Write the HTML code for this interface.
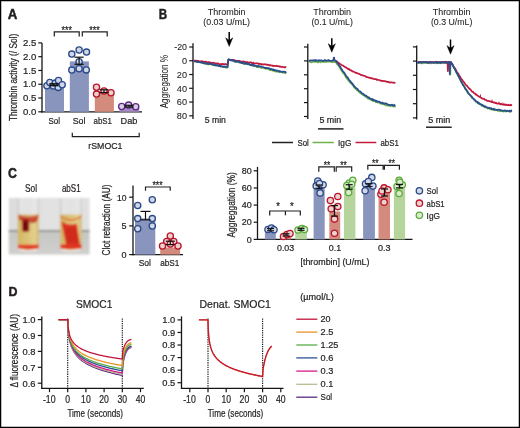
<!DOCTYPE html>
<html><head><meta charset="utf-8"><style>
html,body{margin:0;padding:0;background:#fff;}
svg{display:block;will-change:transform;font-family:"Liberation Sans",sans-serif;}
</style></head><body>
<svg width="520" height="428" viewBox="0 0 520 428">
<rect x="0" y="0" width="520" height="428" fill="#fff"/>
<text x="7.8" y="18.8" font-size="14.2" fill="#231f20" font-weight="bold" stroke="#231f20" stroke-width="0.45" textLength="9.6" lengthAdjust="spacingAndGlyphs">A</text>
<text x="158.8" y="18.7" font-size="13.8" fill="#231f20" font-weight="bold" stroke="#231f20" stroke-width="0.45" textLength="8.4" lengthAdjust="spacingAndGlyphs">B</text>
<text x="8.1" y="178.4" font-size="13.8" fill="#231f20" font-weight="bold" stroke="#231f20" stroke-width="0.45" textLength="8.9" lengthAdjust="spacingAndGlyphs">C</text>
<text x="8.4" y="296.0" font-size="13.4" fill="#231f20" font-weight="bold" stroke="#231f20" stroke-width="0.45" textLength="9.0" lengthAdjust="spacingAndGlyphs">D</text>
<line x1="42.00" y1="42.90" x2="42.00" y2="112.40" stroke="#161616" stroke-width="1.3" />
<line x1="41.40" y1="111.80" x2="142.00" y2="111.80" stroke="#161616" stroke-width="1.3" />
<line x1="38.30" y1="111.80" x2="42.00" y2="111.80" stroke="#161616" stroke-width="1.2" />
<text x="23.0" y="115.0" font-size="9.63" fill="#231f20" font-weight="normal" stroke="#231f20" stroke-width="0.22" textLength="13.3" lengthAdjust="spacingAndGlyphs">0.0</text>
<line x1="38.30" y1="98.02" x2="42.00" y2="98.02" stroke="#161616" stroke-width="1.2" />
<text x="23.0" y="101.2" font-size="9.63" fill="#231f20" font-weight="normal" stroke="#231f20" stroke-width="0.22" textLength="13.3" lengthAdjust="spacingAndGlyphs">0.5</text>
<line x1="38.30" y1="84.24" x2="42.00" y2="84.24" stroke="#161616" stroke-width="1.2" />
<text x="23.0" y="87.4" font-size="9.63" fill="#231f20" font-weight="normal" stroke="#231f20" stroke-width="0.22" textLength="13.3" lengthAdjust="spacingAndGlyphs">1.0</text>
<line x1="38.30" y1="70.46" x2="42.00" y2="70.46" stroke="#161616" stroke-width="1.2" />
<text x="23.0" y="73.7" font-size="9.63" fill="#231f20" font-weight="normal" stroke="#231f20" stroke-width="0.22" textLength="13.3" lengthAdjust="spacingAndGlyphs">1.5</text>
<line x1="38.30" y1="56.68" x2="42.00" y2="56.68" stroke="#161616" stroke-width="1.2" />
<text x="23.0" y="59.9" font-size="9.63" fill="#231f20" font-weight="normal" stroke="#231f20" stroke-width="0.22" textLength="13.3" lengthAdjust="spacingAndGlyphs">2.0</text>
<line x1="38.30" y1="42.90" x2="42.00" y2="42.90" stroke="#161616" stroke-width="1.2" />
<text x="23.0" y="46.1" font-size="9.63" fill="#231f20" font-weight="normal" stroke="#231f20" stroke-width="0.22" textLength="13.3" lengthAdjust="spacingAndGlyphs">2.5</text>
<text transform="translate(17.0,77.4) rotate(-90)" x="-43.6" y="0" font-size="10.45" fill="#231f20" stroke="#231f20" stroke-width="0.22" textLength="87.2" lengthAdjust="spacingAndGlyphs">Thrombin activity (/ Sol)</text>
<rect x="45.00" y="84.24" width="19.00" height="27.56" fill="#8a95be"/>
<rect x="69.80" y="61.37" width="19.10" height="50.43" fill="#8a95be"/>
<rect x="94.80" y="91.13" width="19.10" height="20.67" fill="#d28b7c"/>
<rect x="119.50" y="106.29" width="19.70" height="5.51" fill="#a68cc2"/>
<circle cx="46.90" cy="85.70" r="3.1" fill="#d3d6e7" stroke="#294a88" stroke-width="1.3"/>
<circle cx="49.80" cy="82.50" r="3.1" fill="#d3d6e7" stroke="#294a88" stroke-width="1.3"/>
<circle cx="53.30" cy="86.00" r="3.1" fill="#d3d6e7" stroke="#294a88" stroke-width="1.3"/>
<circle cx="55.30" cy="83.10" r="3.1" fill="#d3d6e7" stroke="#294a88" stroke-width="1.3"/>
<circle cx="58.50" cy="80.50" r="3.1" fill="#d3d6e7" stroke="#294a88" stroke-width="1.3"/>
<circle cx="58.20" cy="87.40" r="3.1" fill="#d3d6e7" stroke="#294a88" stroke-width="1.3"/>
<circle cx="62.20" cy="84.80" r="3.1" fill="#d3d6e7" stroke="#294a88" stroke-width="1.3"/>
<circle cx="71.80" cy="54.10" r="3.1" fill="#d3d6e7" stroke="#294a88" stroke-width="1.3"/>
<circle cx="79.10" cy="50.00" r="3.1" fill="#d3d6e7" stroke="#294a88" stroke-width="1.3"/>
<circle cx="86.50" cy="52.10" r="3.1" fill="#d3d6e7" stroke="#294a88" stroke-width="1.3"/>
<circle cx="79.10" cy="61.70" r="3.1" fill="#d3d6e7" stroke="#294a88" stroke-width="1.3"/>
<circle cx="71.80" cy="70.10" r="3.1" fill="#d3d6e7" stroke="#294a88" stroke-width="1.3"/>
<circle cx="79.10" cy="68.70" r="3.1" fill="#d3d6e7" stroke="#294a88" stroke-width="1.3"/>
<circle cx="86.30" cy="69.90" r="3.1" fill="#d3d6e7" stroke="#294a88" stroke-width="1.3"/>
<circle cx="96.50" cy="87.20" r="3.1" fill="#ebd3cc" stroke="#ba142f" stroke-width="1.3"/>
<circle cx="96.50" cy="94.10" r="3.1" fill="#ebd3cc" stroke="#ba142f" stroke-width="1.3"/>
<circle cx="104.00" cy="91.00" r="3.1" fill="#ebd3cc" stroke="#ba142f" stroke-width="1.3"/>
<circle cx="111.00" cy="92.70" r="3.1" fill="#ebd3cc" stroke="#ba142f" stroke-width="1.3"/>
<circle cx="121.70" cy="106.50" r="3.1" fill="#d8cfe2" stroke="#5d2b86" stroke-width="1.3"/>
<circle cx="128.60" cy="105.10" r="3.1" fill="#d8cfe2" stroke="#5d2b86" stroke-width="1.3"/>
<circle cx="135.70" cy="106.80" r="3.1" fill="#d8cfe2" stroke="#5d2b86" stroke-width="1.3"/>
<line x1="53.90" y1="83.80" x2="53.90" y2="85.60" stroke="#111" stroke-width="1.4" />
<line x1="49.30" y1="83.80" x2="58.50" y2="83.80" stroke="#111" stroke-width="1.4" />
<line x1="49.30" y1="85.60" x2="58.50" y2="85.60" stroke="#111" stroke-width="1.4" />
<line x1="79.10" y1="57.20" x2="79.10" y2="64.30" stroke="#111" stroke-width="1.2" />
<line x1="74.50" y1="57.20" x2="83.70" y2="57.20" stroke="#111" stroke-width="1.2" />
<line x1="74.50" y1="64.30" x2="83.70" y2="64.30" stroke="#111" stroke-width="1.2" />
<line x1="104.00" y1="89.80" x2="104.00" y2="92.60" stroke="#111" stroke-width="1.2" />
<line x1="99.50" y1="89.80" x2="108.50" y2="89.80" stroke="#111" stroke-width="1.2" />
<line x1="99.50" y1="92.60" x2="108.50" y2="92.60" stroke="#111" stroke-width="1.2" />
<line x1="129.00" y1="105.30" x2="129.00" y2="107.00" stroke="#111" stroke-width="1.2" />
<line x1="124.50" y1="105.30" x2="133.50" y2="105.30" stroke="#111" stroke-width="1.2" />
<line x1="124.50" y1="107.00" x2="133.50" y2="107.00" stroke="#111" stroke-width="1.2" />
<path d="M54.3,36.6 V31.8 H79.2 V36.6" fill="none" stroke="#231f20" stroke-width="1.2" />
<path d="M82.3,36.6 V31.8 H107.2 V36.6" fill="none" stroke="#231f20" stroke-width="1.2" />
<text x="61.6" y="34.0" font-size="10.2" fill="#231f20" font-weight="normal" stroke="#231f20" stroke-width="0.22" textLength="10.3" lengthAdjust="spacingAndGlyphs">***</text>
<text x="89.3" y="34.0" font-size="10.2" fill="#231f20" font-weight="normal" stroke="#231f20" stroke-width="0.22" textLength="10.3" lengthAdjust="spacingAndGlyphs">***</text>
<text x="48.5" y="123.5" font-size="9.69" fill="#231f20" font-weight="normal" stroke="#231f20" stroke-width="0.22" textLength="11.5" lengthAdjust="spacingAndGlyphs">Sol</text>
<text x="72.7" y="123.5" font-size="9.69" fill="#231f20" font-weight="normal" stroke="#231f20" stroke-width="0.22" textLength="12.7" lengthAdjust="spacingAndGlyphs">Sol</text>
<text x="93.5" y="123.5" font-size="9.69" fill="#231f20" font-weight="normal" stroke="#231f20" stroke-width="0.22" textLength="18.5" lengthAdjust="spacingAndGlyphs">abS1</text>
<text x="120.5" y="123.5" font-size="9.69" fill="#231f20" font-weight="normal" stroke="#231f20" stroke-width="0.22" textLength="16.9" lengthAdjust="spacingAndGlyphs">Dab</text>
<path d="M72.3,132.7 V136.6 H139.2 V132.7" fill="none" stroke="#231f20" stroke-width="1.2" />
<text x="88.3" y="148.6" font-size="9.69" fill="#231f20" font-weight="normal" stroke="#231f20" stroke-width="0.22" textLength="34.2" lengthAdjust="spacingAndGlyphs">rSMOC1</text>
<line x1="193.00" y1="43.20" x2="193.00" y2="119.00" stroke="#161616" stroke-width="1.3" />
<line x1="189.20" y1="47.00" x2="193.00" y2="47.00" stroke="#161616" stroke-width="1.2" />
<text x="174.2" y="50.2" font-size="9.4" fill="#231f20" font-weight="normal" stroke="#231f20" stroke-width="0.08" textLength="12.8" lengthAdjust="spacingAndGlyphs">-20</text>
<line x1="189.20" y1="60.76" x2="193.00" y2="60.76" stroke="#161616" stroke-width="1.2" />
<text x="181.9" y="64.0" font-size="9.4" fill="#231f20" font-weight="normal" stroke="#231f20" stroke-width="0.08" textLength="5.1" lengthAdjust="spacingAndGlyphs">0</text>
<line x1="189.20" y1="74.52" x2="193.00" y2="74.52" stroke="#161616" stroke-width="1.2" />
<text x="176.8" y="77.7" font-size="9.4" fill="#231f20" font-weight="normal" stroke="#231f20" stroke-width="0.08" textLength="10.2" lengthAdjust="spacingAndGlyphs">20</text>
<line x1="189.20" y1="88.28" x2="193.00" y2="88.28" stroke="#161616" stroke-width="1.2" />
<text x="176.8" y="91.5" font-size="9.4" fill="#231f20" font-weight="normal" stroke="#231f20" stroke-width="0.08" textLength="10.2" lengthAdjust="spacingAndGlyphs">40</text>
<line x1="189.20" y1="102.04" x2="193.00" y2="102.04" stroke="#161616" stroke-width="1.2" />
<text x="176.8" y="105.2" font-size="9.4" fill="#231f20" font-weight="normal" stroke="#231f20" stroke-width="0.08" textLength="10.2" lengthAdjust="spacingAndGlyphs">60</text>
<line x1="189.20" y1="115.80" x2="193.00" y2="115.80" stroke="#161616" stroke-width="1.2" />
<text x="176.8" y="119.0" font-size="9.4" fill="#231f20" font-weight="normal" stroke="#231f20" stroke-width="0.08" textLength="10.2" lengthAdjust="spacingAndGlyphs">80</text>
<text transform="translate(168.1,81.7) rotate(-90)" x="-26.6" y="0" font-size="10.8" fill="#231f20" stroke="#231f20" stroke-width="0.05" textLength="53.3" lengthAdjust="spacingAndGlyphs">Aggregation %</text>
<line x1="307.80" y1="43.80" x2="307.80" y2="119.00" stroke="#161616" stroke-width="1.3" />
<line x1="304.00" y1="47.00" x2="307.80" y2="47.00" stroke="#161616" stroke-width="1.2" />
<line x1="304.00" y1="60.90" x2="307.80" y2="60.90" stroke="#161616" stroke-width="1.2" />
<line x1="304.00" y1="74.80" x2="307.80" y2="74.80" stroke="#161616" stroke-width="1.2" />
<line x1="304.00" y1="88.70" x2="307.80" y2="88.70" stroke="#161616" stroke-width="1.2" />
<line x1="304.00" y1="102.60" x2="307.80" y2="102.60" stroke="#161616" stroke-width="1.2" />
<line x1="304.00" y1="116.50" x2="307.80" y2="116.50" stroke="#161616" stroke-width="1.2" />
<line x1="416.70" y1="45.50" x2="416.70" y2="119.50" stroke="#161616" stroke-width="1.3" />
<line x1="412.90" y1="46.90" x2="416.70" y2="46.90" stroke="#161616" stroke-width="1.2" />
<line x1="412.90" y1="61.10" x2="416.70" y2="61.10" stroke="#161616" stroke-width="1.2" />
<line x1="412.90" y1="75.30" x2="416.70" y2="75.30" stroke="#161616" stroke-width="1.2" />
<line x1="412.90" y1="89.50" x2="416.70" y2="89.50" stroke="#161616" stroke-width="1.2" />
<line x1="412.90" y1="103.70" x2="416.70" y2="103.70" stroke="#161616" stroke-width="1.2" />
<line x1="412.90" y1="117.90" x2="416.70" y2="117.90" stroke="#161616" stroke-width="1.2" />
<line x1="229.20" y1="32.00" x2="229.20" y2="41.40" stroke="#000" stroke-width="1.5" />
<path d="M225.60,37.80 L229.20,40.40 L232.80,37.80 L229.20,46.40 Z" fill="#000" stroke="#000" stroke-width="0.4" stroke-linejoin="round"/>
<line x1="331.80" y1="38.30" x2="331.80" y2="47.30" stroke="#000" stroke-width="1.5" />
<path d="M328.20,43.70 L331.80,46.30 L335.40,43.70 L331.80,52.30 Z" fill="#000" stroke="#000" stroke-width="0.4" stroke-linejoin="round"/>
<line x1="450.50" y1="39.50" x2="450.50" y2="49.20" stroke="#000" stroke-width="1.5" />
<path d="M446.90,45.60 L450.50,48.20 L454.10,45.60 L450.50,54.20 Z" fill="#000" stroke="#000" stroke-width="0.4" stroke-linejoin="round"/>
<text x="207.8" y="14.8" font-size="9.1" fill="#231f20" font-weight="normal" stroke="#231f20" stroke-width="0.08" textLength="37.8" lengthAdjust="spacingAndGlyphs">Thrombin</text>
<text x="203.3" y="24.9" font-size="9.1" fill="#231f20" font-weight="normal" stroke="#231f20" stroke-width="0.08" textLength="46.7" lengthAdjust="spacingAndGlyphs">(0.03 U/mL)</text>
<text x="313.3" y="14.8" font-size="9.1" fill="#231f20" font-weight="normal" stroke="#231f20" stroke-width="0.08" textLength="37.8" lengthAdjust="spacingAndGlyphs">Thrombin</text>
<text x="311.4" y="24.9" font-size="9.1" fill="#231f20" font-weight="normal" stroke="#231f20" stroke-width="0.08" textLength="41.5" lengthAdjust="spacingAndGlyphs">(0.1 U/mL)</text>
<text x="432.7" y="14.8" font-size="9.1" fill="#231f20" font-weight="normal" stroke="#231f20" stroke-width="0.08" textLength="37.8" lengthAdjust="spacingAndGlyphs">Thrombin</text>
<text x="430.9" y="24.9" font-size="9.1" fill="#231f20" font-weight="normal" stroke="#231f20" stroke-width="0.08" textLength="41.5" lengthAdjust="spacingAndGlyphs">(0.3 U/mL)</text>
<path d="M193.5,61.02 L194.2,60.98 L194.9,61.61 L195.6,61.16 L196.3,61.76 L197.0,61.72 L197.7,61.54 L198.4,62.12 L199.1,61.78 L199.7,62.31 L200.4,62.08 L201.1,62.23 L201.8,62.69 L202.5,63.22 L203.2,62.65 L203.9,62.88 L204.6,63.42 L205.3,63.87 L206.0,63.63 L206.7,63.58 L207.4,64.29 L208.1,63.49 L208.8,64.43 L209.5,63.99 L210.2,63.98 L210.8,64.08 L211.5,64.40 L212.2,65.04 L212.9,64.54 L213.6,65.07 L214.3,65.26 L215.0,65.12 L215.7,65.43 L216.4,65.07 L217.1,65.20 L217.8,65.48 L218.5,66.08 L219.2,65.96 L219.9,65.98 L220.6,66.38 L221.3,66.38 L221.9,66.35 L222.6,66.98 L223.3,67.02 L224.0,66.69 L224.7,67.15 L225.4,67.23 L226.1,67.71 L226.8,67.70 L227.5,67.39 L228.3,60.08 L229.0,59.39 L229.7,59.86 L230.4,60.37 L231.1,59.93 L231.8,60.44 L232.5,60.16 L233.2,60.96 L233.9,61.22 L234.6,61.20 L235.3,61.67 L236.0,61.28 L236.7,61.83 L237.4,61.90 L238.1,62.06 L238.8,62.10 L239.5,62.66 L240.2,62.93 L240.9,62.63 L241.6,62.99 L242.3,62.56 L242.9,63.37 L243.6,63.48 L244.3,64.00 L245.0,64.00 L245.7,63.63 L246.4,63.90 L247.1,64.36 L247.8,63.88 L248.5,64.49 L249.2,64.36 L249.9,64.48 L250.6,64.60 L251.3,65.47 L252.0,65.01 L252.7,65.29 L253.4,65.61 L254.1,66.26 L254.8,65.64 L255.5,66.17 L256.2,66.44 L256.9,66.95 L257.6,67.05 L258.3,67.27 L259.0,66.85 L259.7,67.16 L260.4,67.27 L261.1,67.97 L261.8,68.21 L262.5,67.58 L263.2,67.77 L263.9,68.00 L264.6,68.17 L265.3,68.59 L266.0,68.86 L266.7,68.71 L267.4,68.62 L268.1,69.20 L268.8,69.32 L269.5,69.69 L270.2,70.25 L270.9,70.15 L271.6,70.15 L272.2,70.42 L272.9,70.65 L273.6,70.20 L274.3,71.21 L275.0,71.26 L275.7,71.53 L276.4,71.62 L277.1,71.38 L277.8,71.56 L278.5,71.43 L279.2,72.14 L279.9,71.73 L280.6,71.91 L281.3,72.22 L282.0,72.34 L282.7,72.69 L283.4,72.57 L284.1,72.69 L284.8,73.01 L285.5,73.13 L286.2,73.56" fill="none" stroke="#6db34a" stroke-width="1.75" stroke-linejoin="round"/>
<path d="M193.5,60.17 L194.2,60.85 L194.9,60.75 L195.6,60.51 L196.3,60.67 L197.0,60.82 L197.7,60.92 L198.4,60.84 L199.1,61.43 L199.7,61.62 L200.4,61.33 L201.1,61.43 L201.8,61.24 L202.5,61.34 L203.2,61.59 L203.9,61.62 L204.6,62.10 L205.3,61.72 L206.0,61.71 L206.7,62.44 L207.4,62.23 L208.1,62.05 L208.8,62.42 L209.5,62.14 L210.2,62.58 L210.8,62.98 L211.5,62.98 L212.2,62.95 L212.9,62.73 L213.6,62.89 L214.3,62.84 L215.0,63.35 L215.7,63.27 L216.4,63.52 L217.1,63.30 L217.8,63.31 L218.5,63.80 L219.2,64.01 L219.9,64.00 L220.6,64.06 L221.3,64.15 L221.9,64.18 L222.6,63.91 L223.3,64.20 L224.0,64.17 L224.7,64.03 L225.4,64.11 L226.1,64.37 L226.8,64.45 L227.5,64.83 L228.3,59.92 L229.0,59.66 L229.7,60.09 L230.4,60.22 L231.1,60.29 L231.8,59.98 L232.5,59.97 L233.2,60.07 L233.9,60.14 L234.6,60.24 L235.3,60.63 L236.0,60.91 L236.7,60.97 L237.4,60.81 L238.1,61.02 L238.8,61.22 L239.5,60.81 L240.2,61.31 L240.9,61.58 L241.6,61.58 L242.3,61.65 L242.9,61.56 L243.6,61.44 L244.3,61.96 L245.0,61.74 L245.7,62.16 L246.4,62.37 L247.1,62.06 L247.8,62.16 L248.5,62.64 L249.2,62.58 L249.9,62.28 L250.6,62.35 L251.3,62.46 L252.0,63.08 L252.7,63.10 L253.4,62.74 L254.1,63.31 L254.8,63.51 L255.5,63.38 L256.2,63.25 L256.9,63.49 L257.6,63.29 L258.3,63.30 L259.0,64.06 L259.7,63.93 L260.4,63.94 L261.1,64.32 L261.8,64.06 L262.5,64.47 L263.2,64.53 L263.9,64.19 L264.6,64.31 L265.3,64.44 L266.0,64.49 L266.7,64.83 L267.4,64.69 L268.1,64.90 L268.8,64.79 L269.5,65.43 L270.2,65.14 L270.9,65.30 L271.6,65.48 L272.2,65.80 L272.9,65.56 L273.6,66.00 L274.3,65.80 L275.0,65.92 L275.7,66.01 L276.4,65.75 L277.1,66.14 L277.8,66.05 L278.5,66.02 L279.2,66.67 L279.9,66.32 L280.6,66.63 L281.3,66.90 L282.0,66.88 L282.7,66.81 L283.4,67.04 L284.1,67.16 L284.8,67.41 L285.5,67.03 L286.2,67.44" fill="none" stroke="#c2183c" stroke-width="1.75" stroke-linejoin="round"/>
<path d="M193.5,60.62 L194.2,60.79 L194.9,61.46 L195.6,61.30 L196.3,61.49 L197.0,61.84 L197.7,62.14 L198.4,61.75 L199.1,62.07 L199.7,62.08 L200.4,62.22 L201.1,62.55 L201.8,62.41 L202.5,62.63 L203.2,62.70 L203.9,63.34 L204.6,63.21 L205.3,63.53 L206.0,63.74 L206.7,63.12 L207.4,63.58 L208.1,64.13 L208.8,64.15 L209.5,63.50 L210.2,63.62 L210.8,64.10 L211.5,63.83 L212.2,64.14 L212.9,64.09 L213.6,64.87 L214.3,65.13 L215.0,65.39 L215.7,64.70 L216.4,65.45 L217.1,65.52 L217.8,65.08 L218.5,66.02 L219.2,66.25 L219.9,65.55 L220.6,66.49 L221.3,66.01 L221.9,66.24 L222.6,66.92 L223.3,66.88 L224.0,66.27 L224.7,66.70 L225.4,66.93 L226.1,66.86 L226.8,66.83 L227.5,67.10 L228.3,59.84 L229.0,59.23 L229.7,59.97 L230.4,60.00 L231.1,59.70 L231.8,60.20 L232.5,60.68 L233.2,60.71 L233.9,60.37 L234.6,61.54 L235.3,61.48 L236.0,61.84 L236.7,61.04 L237.4,61.38 L238.1,61.29 L238.8,62.26 L239.5,61.85 L240.2,61.86 L240.9,62.33 L241.6,63.03 L242.3,63.08 L242.9,62.62 L243.6,62.66 L244.3,63.66 L245.0,63.44 L245.7,63.74 L246.4,63.22 L247.1,63.34 L247.8,64.19 L248.5,64.06 L249.2,63.83 L249.9,64.94 L250.6,64.76 L251.3,65.10 L252.0,64.47 L252.7,65.47 L253.4,64.76 L254.1,65.79 L254.8,65.50 L255.5,65.53 L256.2,65.92 L256.9,66.49 L257.6,65.92 L258.3,65.93 L259.0,66.52 L259.7,66.36 L260.4,66.38 L261.1,66.59 L261.8,66.62 L262.5,66.95 L263.2,67.22 L263.9,67.37 L264.6,68.03 L265.3,67.67 L266.0,68.06 L266.7,67.86 L267.4,68.20 L268.1,68.00 L268.8,68.41 L269.5,68.31 L270.2,69.25 L270.9,69.21 L271.6,68.97 L272.2,69.44 L272.9,70.10 L273.6,69.35 L274.3,70.29 L275.0,70.02 L275.7,70.25 L276.4,70.78 L277.1,70.45 L277.8,70.73 L278.5,71.08 L279.2,71.56 L279.9,71.02 L280.6,71.71 L281.3,71.73 L282.0,71.81 L282.7,71.71 L283.4,71.81 L284.1,71.64 L284.8,71.88 L285.5,71.97 L286.2,72.86" fill="none" stroke="#2a4f8e" stroke-width="1.75" stroke-linejoin="round"/>
<path d="M308.5,61.66 L309.2,61.56 L309.9,61.48 L310.6,62.24 L311.3,62.27 L312.0,62.07 L312.7,61.68 L313.3,61.64 L314.0,61.69 L314.7,61.86 L315.4,61.56 L316.1,61.85 L316.8,61.66 L317.5,62.36 L318.2,62.37 L318.9,61.95 L319.6,61.64 L320.3,62.37 L321.0,61.71 L321.7,61.76 L322.3,61.40 L323.0,61.78 L323.7,61.87 L324.4,61.90 L325.1,61.60 L325.8,61.90 L326.5,61.40 L327.2,61.66 L327.9,61.49 L328.6,61.80 L329.3,61.44 L330.0,61.42 L330.7,61.70 L331.3,61.63 L332.0,61.99 L332.7,61.93 L333.4,62.15 L334.1,62.06 L334.8,62.12 L335.5,62.28 L335.5,61.79 L336.2,62.42 L336.9,63.97 L337.6,64.10 L338.3,65.68 L339.0,66.64 L339.7,67.09 L340.4,68.95 L341.1,70.07 L341.8,70.86 L342.5,72.02 L343.2,73.15 L343.9,73.51 L344.6,74.91 L345.3,75.90 L346.0,77.22 L346.7,78.16 L347.4,79.14 L348.1,79.83 L348.8,81.05 L349.5,81.74 L350.2,82.63 L350.8,83.02 L351.5,83.65 L352.2,84.57 L352.9,85.59 L353.6,86.10 L354.3,87.58 L355.0,88.04 L355.7,88.82 L356.4,89.51 L357.1,90.23 L357.8,90.69 L358.5,90.84 L359.2,92.24 L359.9,92.79 L360.6,93.12 L361.3,93.71 L362.0,94.38 L362.7,94.31 L363.4,95.48 L364.1,95.49 L364.8,95.79 L365.5,96.44 L366.2,97.34 L366.9,97.25 L367.6,98.20 L368.3,98.84 L369.0,98.74 L369.7,99.00 L370.4,99.46 L371.1,100.01 L371.8,100.43 L372.5,100.60 L373.2,100.94 L373.9,100.68 L374.6,101.04 L375.3,101.42 L376.0,102.18 L376.7,102.00 L377.4,102.52 L378.1,102.20 L378.8,102.48 L379.5,102.91 L380.2,103.53 L380.8,103.76 L381.5,103.94 L382.2,103.75 L382.9,104.16 L383.6,104.28 L384.3,104.45 L385.0,104.27 L385.7,105.20 L386.4,104.66 L387.1,105.58 L387.8,105.68 L388.5,104.90 L389.2,105.47 L389.9,105.95 L390.6,106.22 L391.3,105.81 L392.0,105.74 L392.7,105.79 L393.4,106.62 L394.1,105.99 L394.8,106.45 L395.5,106.10" fill="none" stroke="#6db34a" stroke-width="1.75" />
<path d="M335.5,60.51 L336.2,61.27 L336.9,61.39 L337.6,62.26 L338.3,62.62 L339.0,63.31 L339.7,63.71 L340.4,63.96 L341.1,64.77 L341.8,65.03 L342.5,65.25 L343.2,65.69 L343.9,66.37 L344.6,66.78 L345.3,67.12 L346.0,67.45 L346.7,67.96 L347.4,68.34 L348.1,68.99 L348.8,68.95 L349.5,69.70 L350.2,70.11 L350.8,70.11 L351.5,70.86 L352.2,71.10 L352.9,71.53 L353.6,71.56 L354.3,71.92 L355.0,72.25 L355.7,72.87 L356.4,72.97 L357.1,73.15 L357.8,73.48 L358.5,73.69 L359.2,73.86 L359.9,74.16 L360.6,74.80 L361.3,74.79 L362.0,75.38 L362.7,75.29 L363.4,75.55 L364.1,75.92 L364.8,76.00 L365.5,76.32 L366.2,76.85 L366.9,77.04 L367.6,77.22 L368.3,77.35 L369.0,77.71 L369.7,77.93 L370.4,77.94 L371.1,78.22 L371.8,78.09 L372.5,78.62 L373.2,78.67 L373.9,79.01 L374.6,79.13 L375.3,79.13 L376.0,79.19 L376.7,79.80 L377.4,79.57 L378.1,79.90 L378.8,80.00 L379.5,80.14 L380.2,80.51 L380.8,80.78 L381.5,80.57 L382.2,80.92 L382.9,80.88 L383.6,81.15 L384.3,81.21 L385.0,81.23 L385.7,81.36 L386.4,81.51 L387.1,81.99 L387.8,81.91 L388.5,81.89 L389.2,82.36 L389.9,82.52 L390.6,82.36 L391.3,82.32 L392.0,82.45 L392.7,82.51 L393.4,82.74 L394.1,82.72 L394.8,82.90 L395.5,83.01" fill="none" stroke="#c2183c" stroke-width="1.75" />
<path d="M308.5,60.56 L309.2,60.85 L309.9,60.72 L310.6,60.42 L311.3,60.42 L312.0,60.52 L312.7,60.39 L313.4,60.35 L314.1,60.11 L314.8,60.30 L315.4,60.92 L316.1,60.16 L316.8,60.50 L317.5,60.62 L318.2,60.83 L318.9,60.24 L319.6,60.29 L320.3,60.27 L321.0,60.41 L321.7,60.45 L322.4,60.91 L323.1,60.81 L323.8,60.84 L324.5,60.07 L325.2,60.08 L325.9,60.69 L326.6,60.86 L327.2,60.48 L327.9,60.58 L328.6,60.05 L329.3,60.40 L330.0,60.88 L330.7,60.79 L331.4,60.82 L332.1,60.93 L332.8,60.27 L333.5,60.15 L333.9,56.99 L334.6,60.52 L335.5,60.66 L336.2,61.60 L336.9,62.30 L337.6,63.21 L338.3,64.33 L339.0,65.10 L339.7,66.25 L340.4,66.86 L341.1,68.61 L341.8,69.18 L342.5,70.87 L343.2,71.68 L343.9,72.41 L344.6,73.29 L345.3,74.41 L346.0,75.76 L346.7,76.80 L347.4,77.23 L348.1,78.14 L348.8,79.47 L349.5,80.43 L350.2,81.14 L350.8,81.85 L351.5,83.04 L352.2,83.33 L352.9,84.39 L353.6,85.31 L354.3,86.52 L355.0,86.97 L355.7,87.91 L356.4,88.23 L357.1,88.70 L357.8,89.36 L358.5,90.65 L359.2,91.03 L359.9,91.28 L360.6,91.60 L361.3,92.60 L362.0,93.30 L362.7,93.60 L363.4,93.97 L364.1,94.83 L364.8,95.54 L365.5,95.38 L366.2,95.65 L366.9,96.36 L367.6,96.85 L368.3,97.49 L369.0,97.45 L369.7,98.36 L370.4,98.67 L371.1,98.82 L371.8,98.88 L372.5,99.90 L373.2,99.62 L373.9,100.38 L374.6,100.15 L375.3,100.42 L376.0,101.18 L376.7,101.02 L377.4,101.87 L378.1,101.70 L378.8,101.66 L379.5,101.91 L380.2,102.30 L380.8,102.74 L381.5,103.19 L382.2,102.66 L382.9,103.07 L383.6,103.09 L384.3,103.95 L385.0,103.36 L385.7,103.44 L386.4,103.60 L387.1,104.05 L387.8,104.64 L388.5,104.76 L389.2,104.76 L389.9,105.12 L390.6,105.18 L391.3,104.75 L392.0,104.73 L392.7,105.52 L393.4,105.45 L394.1,104.90 L394.8,105.56 L395.5,105.40" fill="none" stroke="#2a4f8e" stroke-width="1.75" />
<path d="M417.5,62.67 L418.2,62.63 L418.9,62.47 L419.6,62.30 L420.2,62.58 L420.9,62.65 L421.6,63.26 L422.3,62.42 L423.0,63.26 L423.7,62.51 L424.4,62.66 L425.1,63.12 L425.7,63.12 L426.4,62.73 L427.1,62.35 L427.8,62.77 L428.5,62.67 L429.2,63.22 L429.9,62.49 L430.6,62.66 L431.2,63.20 L431.9,62.33 L432.6,62.71 L433.3,63.11 L434.0,63.07 L434.7,62.34 L435.4,62.33 L436.1,62.36 L436.7,63.22 L437.4,62.56 L438.1,63.05 L438.8,63.20 L439.5,62.64 L440.2,62.57 L440.9,63.26 L441.6,62.92 L442.2,62.56 L442.9,63.02 L443.6,62.62 L444.3,62.58 L445.0,62.30 L445.7,63.06 L446.4,63.22 L447.1,62.93 L447.7,63.24 L448.4,62.32 L449.1,62.53 L449.8,62.78 L450.2,75.46 L450.6,63.45 L451.0,62.89 L451.7,63.46 L452.4,64.65 L453.1,65.87 L453.8,67.55 L454.5,68.11 L455.2,70.08 L455.9,71.39 L456.5,72.86 L457.2,74.20 L457.9,75.41 L458.6,76.51 L459.3,77.86 L460.0,79.24 L460.7,80.97 L461.4,81.56 L462.1,82.94 L462.8,84.72 L463.5,85.41 L464.2,86.40 L464.9,87.50 L465.6,89.11 L466.2,89.94 L466.9,91.62 L467.6,92.51 L468.3,93.57 L469.0,93.77 L469.7,94.47 L470.4,95.33 L471.1,96.55 L471.8,97.55 L472.5,98.03 L473.2,98.54 L473.9,99.41 L474.6,100.27 L475.3,100.95 L476.0,101.63 L476.6,102.30 L477.3,102.66 L478.0,102.64 L478.7,103.86 L479.4,103.78 L480.1,104.50 L480.8,104.74 L481.5,105.51 L482.2,105.35 L482.9,105.76 L483.6,106.11 L484.3,106.35 L485.0,107.39 L485.7,107.38 L486.4,107.40 L487.0,107.74 L487.7,108.58 L488.4,108.33 L489.1,108.28 L489.8,109.07 L490.5,109.11 L491.2,109.64 L491.9,108.92 L492.6,109.46 L493.3,109.96 L494.0,110.13 L494.7,110.35 L495.4,109.60 L496.1,109.98 L496.8,109.92 L497.4,110.10 L498.1,110.99 L498.8,110.69 L499.5,111.13 L500.2,110.66 L500.9,111.23 L501.6,110.89 L502.3,110.77 L503.0,111.35 L503.7,111.58 L504.4,110.80 L505.1,111.35 L505.8,111.42 L506.5,111.06 L507.1,111.26 L507.8,111.07 L508.5,111.18 L509.2,111.26 L509.9,111.64 L510.6,111.72 L511.3,111.31 L512.0,111.14" fill="none" stroke="#6db34a" stroke-width="1.75" />
<path d="M417.5,62.08 L418.2,62.32 L418.9,61.98 L419.6,62.07 L420.2,61.99 L420.9,62.41 L421.6,62.23 L422.3,61.89 L423.0,61.92 L423.7,62.13 L424.3,62.24 L425.0,62.30 L425.7,61.91 L426.4,61.96 L427.1,62.34 L427.8,62.14 L428.4,62.05 L429.1,62.07 L429.8,62.52 L430.5,62.07 L431.2,62.25 L431.9,62.10 L432.6,62.14 L433.2,62.45 L433.9,62.55 L434.6,62.10 L435.3,61.99 L436.0,62.36 L436.7,61.99 L437.3,61.85 L438.0,62.48 L438.7,62.15 L439.4,62.42 L440.1,62.13 L440.8,62.47 L441.4,62.17 L442.1,61.96 L442.8,61.86 L443.5,62.24 L444.2,62.30 L444.9,62.49 L445.5,61.91 L446.2,62.29 L446.9,62.11 L447.6,62.20 L447.9,71.75 L448.3,62.05 L450.7,62.21 L451.4,63.27 L452.1,63.69 L452.8,65.02 L453.5,66.36 L454.2,67.61 L454.9,68.22 L455.6,69.33 L456.3,71.05 L457.0,72.22 L457.7,73.00 L458.4,73.82 L459.1,75.52 L459.8,76.22 L460.5,77.64 L461.1,78.48 L461.8,79.63 L462.5,80.15 L463.2,81.54 L463.9,82.08 L464.6,83.12 L465.3,84.31 L466.0,85.15 L466.7,85.53 L467.4,86.36 L468.1,87.27 L468.8,88.10 L469.5,88.74 L470.2,89.26 L470.9,90.03 L471.6,91.02 L472.3,91.78 L473.0,91.79 L473.7,92.75 L474.4,93.45 L475.1,93.50 L475.8,94.59 L476.5,94.59 L477.2,95.42 L477.9,95.85 L478.6,96.36 L479.3,96.57 L480.0,97.07 L480.7,97.58 L481.4,97.86 L482.0,98.39 L482.7,98.60 L483.4,98.93 L484.1,98.97 L484.8,99.70 L485.5,99.91 L486.2,100.02 L486.9,100.66 L487.6,100.94 L488.3,100.96 L489.0,101.01 L489.7,101.45 L490.4,101.41 L491.1,101.64 L491.8,102.05 L492.5,102.01 L493.2,102.44 L493.9,102.66 L494.6,102.50 L495.3,103.08 L496.0,102.85 L496.7,103.45 L497.4,103.62 L498.1,103.57 L498.8,103.38 L499.5,103.81 L500.2,103.84 L500.9,104.36 L501.6,103.89 L502.2,104.50 L502.9,104.69 L503.6,104.60 L504.3,104.74 L505.0,104.39 L505.7,105.02 L506.4,104.76 L507.1,105.15 L507.8,105.19 L508.5,104.73 L509.2,105.23 L509.9,105.39 L510.6,104.84 L511.3,105.09 L512.0,105.43" fill="none" stroke="#c2183c" stroke-width="1.75" />
<line x1="480.50" y1="97.44" x2="480.50" y2="94.44" stroke="#c2183c" stroke-width="0.9" />
<line x1="492.00" y1="102.16" x2="492.00" y2="99.66" stroke="#c2183c" stroke-width="0.9" />
<line x1="499.00" y1="103.73" x2="499.00" y2="101.73" stroke="#c2183c" stroke-width="0.9" />
<line x1="503.00" y1="104.35" x2="503.00" y2="102.55" stroke="#c2183c" stroke-width="0.9" />
<path d="M417.5,62.09 L418.2,62.76 L418.9,62.20 L419.6,62.68 L420.3,62.08 L421.0,62.40 L421.7,62.78 L422.4,62.14 L423.1,62.19 L423.8,62.41 L424.5,62.24 L425.2,61.98 L425.8,62.11 L426.5,62.10 L427.2,62.79 L427.9,62.56 L428.6,62.76 L429.3,62.10 L430.0,62.66 L430.7,62.05 L431.4,62.43 L432.1,62.52 L432.8,62.27 L433.5,62.74 L434.2,62.45 L434.9,62.47 L435.6,62.74 L436.3,62.04 L437.0,62.84 L437.7,62.52 L438.4,62.30 L439.1,62.67 L439.8,62.19 L440.5,62.84 L441.2,62.47 L441.8,62.27 L442.5,62.64 L443.2,62.35 L443.9,62.11 L444.6,62.62 L445.3,61.99 L446.0,62.69 L446.7,62.18 L447.4,62.53 L448.1,62.84 L448.8,62.48 L449.5,62.55 L449.8,74.83 L450.2,62.05 L450.7,61.98 L451.4,62.79 L452.1,64.23 L452.8,65.23 L453.5,66.56 L454.2,68.22 L454.9,68.89 L455.6,70.35 L456.3,72.13 L457.0,72.95 L457.7,74.33 L458.4,76.02 L459.1,77.16 L459.8,78.73 L460.5,79.93 L461.1,81.55 L461.8,82.82 L462.5,83.71 L463.2,85.28 L463.9,86.32 L464.6,87.14 L465.3,88.96 L466.0,89.40 L466.7,90.34 L467.4,91.28 L468.1,92.72 L468.8,93.85 L469.5,94.66 L470.2,95.16 L470.9,95.85 L471.6,96.41 L472.3,97.73 L473.0,98.37 L473.7,98.87 L474.4,99.79 L475.1,100.23 L475.8,101.28 L476.5,101.66 L477.2,101.77 L477.9,102.88 L478.6,102.60 L479.3,103.51 L480.0,103.84 L480.7,104.11 L481.4,104.36 L482.0,105.39 L482.7,105.06 L483.4,105.89 L484.1,106.56 L484.8,106.15 L485.5,106.50 L486.2,107.14 L486.9,107.31 L487.6,107.68 L488.3,108.07 L489.0,107.71 L489.7,108.04 L490.4,108.23 L491.1,108.19 L491.8,109.12 L492.5,109.19 L493.2,109.28 L493.9,108.79 L494.6,109.68 L495.3,109.72 L496.0,109.59 L496.7,109.96 L497.4,109.80 L498.1,109.70 L498.8,109.69 L499.5,109.89 L500.2,109.80 L500.9,110.14 L501.6,110.59 L502.2,110.61 L502.9,110.81 L503.6,110.75 L504.3,110.41 L505.0,110.72 L505.7,110.66 L506.4,111.02 L507.1,110.83 L507.8,110.64 L508.5,111.01 L509.2,111.34 L509.9,110.70 L510.6,111.33 L511.3,110.58 L512.0,110.83" fill="none" stroke="#2a4f8e" stroke-width="1.75" />
<text x="204.8" y="123.2" font-size="9.1" fill="#231f20" font-weight="normal" stroke="#231f20" stroke-width="0.22" textLength="21.1" lengthAdjust="spacingAndGlyphs">5 min</text>
<text x="319.4" y="123.2" font-size="9.1" fill="#231f20" font-weight="normal" stroke="#231f20" stroke-width="0.22" textLength="21.7" lengthAdjust="spacingAndGlyphs">5 min</text>
<line x1="318.00" y1="128.90" x2="343.50" y2="128.90" stroke="#161616" stroke-width="1.4" />
<text x="428.3" y="123.0" font-size="9.1" fill="#231f20" font-weight="normal" stroke="#231f20" stroke-width="0.22" textLength="22.0" lengthAdjust="spacingAndGlyphs">5 min</text>
<line x1="426.00" y1="127.20" x2="451.70" y2="127.20" stroke="#161616" stroke-width="1.4" />
<line x1="272.00" y1="142.50" x2="293.00" y2="142.50" stroke="#222" stroke-width="1.5" />
<text x="297.5" y="145.6" font-size="9.63" fill="#231f20" font-weight="normal" stroke="#231f20" stroke-width="0.22" textLength="11.3" lengthAdjust="spacingAndGlyphs">Sol</text>
<line x1="312.50" y1="142.50" x2="333.80" y2="142.50" stroke="#6db34a" stroke-width="1.5" />
<text x="338.0" y="145.6" font-size="9.63" fill="#231f20" font-weight="normal" stroke="#231f20" stroke-width="0.22" textLength="13.3" lengthAdjust="spacingAndGlyphs">IgG</text>
<line x1="355.50" y1="142.50" x2="376.30" y2="142.50" stroke="#c2183c" stroke-width="1.5" />
<text x="380.5" y="145.6" font-size="9.63" fill="#231f20" font-weight="normal" stroke="#231f20" stroke-width="0.22" textLength="18.3" lengthAdjust="spacingAndGlyphs">abS1</text>
<line x1="257.50" y1="166.90" x2="257.50" y2="240.00" stroke="#161616" stroke-width="1.3" />
<line x1="256.90" y1="239.40" x2="412.50" y2="239.40" stroke="#161616" stroke-width="1.3" />
<line x1="253.70" y1="239.40" x2="257.50" y2="239.40" stroke="#161616" stroke-width="1.2" />
<text x="246.7" y="242.6" font-size="9.63" fill="#231f20" font-weight="normal" stroke="#231f20" stroke-width="0.22" textLength="5.0" lengthAdjust="spacingAndGlyphs">0</text>
<line x1="253.70" y1="222.25" x2="257.50" y2="222.25" stroke="#161616" stroke-width="1.2" />
<text x="241.7" y="225.4" font-size="9.63" fill="#231f20" font-weight="normal" stroke="#231f20" stroke-width="0.22" textLength="10.0" lengthAdjust="spacingAndGlyphs">20</text>
<line x1="253.70" y1="205.10" x2="257.50" y2="205.10" stroke="#161616" stroke-width="1.2" />
<text x="241.7" y="208.3" font-size="9.63" fill="#231f20" font-weight="normal" stroke="#231f20" stroke-width="0.22" textLength="10.0" lengthAdjust="spacingAndGlyphs">40</text>
<line x1="253.70" y1="187.95" x2="257.50" y2="187.95" stroke="#161616" stroke-width="1.2" />
<text x="241.7" y="191.1" font-size="9.63" fill="#231f20" font-weight="normal" stroke="#231f20" stroke-width="0.22" textLength="10.0" lengthAdjust="spacingAndGlyphs">60</text>
<line x1="253.70" y1="170.80" x2="257.50" y2="170.80" stroke="#161616" stroke-width="1.2" />
<text x="241.7" y="174.0" font-size="9.63" fill="#231f20" font-weight="normal" stroke="#231f20" stroke-width="0.22" textLength="10.0" lengthAdjust="spacingAndGlyphs">80</text>
<text transform="translate(235.1,204.9) rotate(-90)" x="-32.6" y="0" font-size="11.55" fill="#231f20" stroke="#231f20" stroke-width="0.22" textLength="65.2" lengthAdjust="spacingAndGlyphs">Aggreggation (%)</text>
<rect x="264.90" y="229.11" width="10.90" height="10.29" fill="#8a95be"/>
<rect x="280.00" y="235.11" width="11.40" height="4.29" fill="#d28b7c"/>
<rect x="295.20" y="229.11" width="11.70" height="10.29" fill="#b6d59d"/>
<rect x="313.60" y="187.95" width="11.10" height="51.45" fill="#8a95be"/>
<rect x="329.30" y="211.53" width="10.90" height="27.87" fill="#d28b7c"/>
<rect x="344.00" y="187.52" width="11.40" height="51.88" fill="#b6d59d"/>
<rect x="363.10" y="185.38" width="11.80" height="54.02" fill="#8a95be"/>
<rect x="378.50" y="192.24" width="11.50" height="47.16" fill="#d28b7c"/>
<rect x="393.90" y="186.24" width="11.20" height="53.16" fill="#b6d59d"/>
<circle cx="268.00" cy="229.50" r="3.15" fill="#d3d6e7" stroke="#294a88" stroke-width="1.3"/>
<circle cx="271.50" cy="228.00" r="3.15" fill="#d3d6e7" stroke="#294a88" stroke-width="1.3"/>
<circle cx="274.00" cy="229.80" r="3.15" fill="#d3d6e7" stroke="#294a88" stroke-width="1.3"/>
<line x1="270.50" y1="228.50" x2="270.50" y2="230.80" stroke="#111" stroke-width="1.2" />
<line x1="267.00" y1="228.50" x2="274.00" y2="228.50" stroke="#111" stroke-width="1.2" />
<line x1="267.00" y1="230.80" x2="274.00" y2="230.80" stroke="#111" stroke-width="1.2" />
<circle cx="283.50" cy="236.50" r="3.15" fill="#ebd3cc" stroke="#ba142f" stroke-width="1.3"/>
<circle cx="287.00" cy="234.50" r="3.15" fill="#ebd3cc" stroke="#ba142f" stroke-width="1.3"/>
<circle cx="290.00" cy="233.50" r="3.15" fill="#ebd3cc" stroke="#ba142f" stroke-width="1.3"/>
<line x1="286.00" y1="233.80" x2="286.00" y2="236.00" stroke="#111" stroke-width="1.2" />
<line x1="282.50" y1="233.80" x2="289.50" y2="233.80" stroke="#111" stroke-width="1.2" />
<line x1="282.50" y1="236.00" x2="289.50" y2="236.00" stroke="#111" stroke-width="1.2" />
<circle cx="298.00" cy="230.00" r="3.15" fill="#dcead0" stroke="#5aac3a" stroke-width="1.3"/>
<circle cx="302.00" cy="228.50" r="3.15" fill="#dcead0" stroke="#5aac3a" stroke-width="1.3"/>
<circle cx="304.50" cy="229.50" r="3.15" fill="#dcead0" stroke="#5aac3a" stroke-width="1.3"/>
<line x1="301.00" y1="228.30" x2="301.00" y2="230.30" stroke="#111" stroke-width="1.2" />
<line x1="297.50" y1="228.30" x2="304.50" y2="228.30" stroke="#111" stroke-width="1.2" />
<line x1="297.50" y1="230.30" x2="304.50" y2="230.30" stroke="#111" stroke-width="1.2" />
<circle cx="317.80" cy="181.00" r="3.15" fill="#d3d6e7" stroke="#294a88" stroke-width="1.3"/>
<circle cx="316.20" cy="185.90" r="3.15" fill="#d3d6e7" stroke="#294a88" stroke-width="1.3"/>
<circle cx="323.10" cy="184.70" r="3.15" fill="#d3d6e7" stroke="#294a88" stroke-width="1.3"/>
<circle cx="319.50" cy="183.50" r="3.15" fill="#d3d6e7" stroke="#294a88" stroke-width="1.3"/>
<circle cx="320.10" cy="192.90" r="3.15" fill="#d3d6e7" stroke="#294a88" stroke-width="1.3"/>
<line x1="319.00" y1="185.00" x2="319.00" y2="188.30" stroke="#111" stroke-width="1.2" />
<line x1="315.50" y1="185.00" x2="322.50" y2="185.00" stroke="#111" stroke-width="1.2" />
<line x1="315.50" y1="188.30" x2="322.50" y2="188.30" stroke="#111" stroke-width="1.2" />
<circle cx="330.40" cy="200.60" r="3.15" fill="#ebd3cc" stroke="#ba142f" stroke-width="1.3"/>
<circle cx="337.80" cy="196.50" r="3.15" fill="#ebd3cc" stroke="#ba142f" stroke-width="1.3"/>
<circle cx="331.20" cy="208.80" r="3.15" fill="#ebd3cc" stroke="#ba142f" stroke-width="1.3"/>
<circle cx="337.80" cy="206.60" r="3.15" fill="#ebd3cc" stroke="#ba142f" stroke-width="1.3"/>
<circle cx="334.50" cy="219.10" r="3.15" fill="#ebd3cc" stroke="#ba142f" stroke-width="1.3"/>
<circle cx="334.50" cy="233.30" r="3.15" fill="#ebd3cc" stroke="#ba142f" stroke-width="1.3"/>
<line x1="334.50" y1="205.50" x2="334.50" y2="216.10" stroke="#111" stroke-width="1.2" />
<line x1="331.00" y1="205.50" x2="338.00" y2="205.50" stroke="#111" stroke-width="1.2" />
<line x1="331.00" y1="216.10" x2="338.00" y2="216.10" stroke="#111" stroke-width="1.2" />
<circle cx="349.20" cy="183.10" r="3.15" fill="#dcead0" stroke="#5aac3a" stroke-width="1.3"/>
<circle cx="352.80" cy="180.20" r="3.15" fill="#dcead0" stroke="#5aac3a" stroke-width="1.3"/>
<circle cx="346.80" cy="185.50" r="3.15" fill="#dcead0" stroke="#5aac3a" stroke-width="1.3"/>
<circle cx="348.60" cy="192.60" r="3.15" fill="#dcead0" stroke="#5aac3a" stroke-width="1.3"/>
<circle cx="351.70" cy="184.30" r="3.15" fill="#dcead0" stroke="#5aac3a" stroke-width="1.3"/>
<line x1="349.20" y1="184.70" x2="349.20" y2="189.20" stroke="#111" stroke-width="1.2" />
<line x1="345.70" y1="184.70" x2="352.70" y2="184.70" stroke="#111" stroke-width="1.2" />
<line x1="345.70" y1="189.20" x2="352.70" y2="189.20" stroke="#111" stroke-width="1.2" />
<circle cx="371.80" cy="177.40" r="3.15" fill="#d3d6e7" stroke="#294a88" stroke-width="1.3"/>
<circle cx="365.50" cy="183.70" r="3.15" fill="#d3d6e7" stroke="#294a88" stroke-width="1.3"/>
<circle cx="372.90" cy="186.10" r="3.15" fill="#d3d6e7" stroke="#294a88" stroke-width="1.3"/>
<circle cx="365.10" cy="190.70" r="3.15" fill="#d3d6e7" stroke="#294a88" stroke-width="1.3"/>
<circle cx="368.30" cy="181.60" r="3.15" fill="#d3d6e7" stroke="#294a88" stroke-width="1.3"/>
<line x1="369.00" y1="183.70" x2="369.00" y2="186.50" stroke="#111" stroke-width="1.2" />
<line x1="365.50" y1="183.70" x2="372.50" y2="183.70" stroke="#111" stroke-width="1.2" />
<line x1="365.50" y1="186.50" x2="372.50" y2="186.50" stroke="#111" stroke-width="1.2" />
<circle cx="384.10" cy="187.90" r="3.15" fill="#ebd3cc" stroke="#ba142f" stroke-width="1.3"/>
<circle cx="387.90" cy="189.70" r="3.15" fill="#ebd3cc" stroke="#ba142f" stroke-width="1.3"/>
<circle cx="380.90" cy="194.20" r="3.15" fill="#ebd3cc" stroke="#ba142f" stroke-width="1.3"/>
<circle cx="384.10" cy="202.30" r="3.15" fill="#ebd3cc" stroke="#ba142f" stroke-width="1.3"/>
<circle cx="382.00" cy="191.00" r="3.15" fill="#ebd3cc" stroke="#ba142f" stroke-width="1.3"/>
<line x1="384.50" y1="189.00" x2="384.50" y2="196.00" stroke="#111" stroke-width="1.2" />
<line x1="381.00" y1="189.00" x2="388.00" y2="189.00" stroke="#111" stroke-width="1.2" />
<line x1="381.00" y1="196.00" x2="388.00" y2="196.00" stroke="#111" stroke-width="1.2" />
<circle cx="399.10" cy="180.20" r="3.15" fill="#dcead0" stroke="#5aac3a" stroke-width="1.3"/>
<circle cx="397.00" cy="186.50" r="3.15" fill="#dcead0" stroke="#5aac3a" stroke-width="1.3"/>
<circle cx="402.30" cy="184.70" r="3.15" fill="#dcead0" stroke="#5aac3a" stroke-width="1.3"/>
<circle cx="399.10" cy="193.50" r="3.15" fill="#dcead0" stroke="#5aac3a" stroke-width="1.3"/>
<circle cx="399.80" cy="182.30" r="3.15" fill="#dcead0" stroke="#5aac3a" stroke-width="1.3"/>
<line x1="399.50" y1="184.40" x2="399.50" y2="187.90" stroke="#111" stroke-width="1.2" />
<line x1="396.00" y1="184.40" x2="403.00" y2="184.40" stroke="#111" stroke-width="1.2" />
<line x1="396.00" y1="187.90" x2="403.00" y2="187.90" stroke="#111" stroke-width="1.2" />
<path d="M269.7,215.5 V211 H300.3 V215.5 M285.4,211 V215.2" fill="none" stroke="#231f20" stroke-width="1.2" />
<text x="276.3" y="210.2" font-size="10.2" fill="#231f20" font-weight="normal" stroke="#231f20" stroke-width="0.22" textLength="3.7" lengthAdjust="spacingAndGlyphs">*</text>
<text x="290.1" y="210.2" font-size="10.2" fill="#231f20" font-weight="normal" stroke="#231f20" stroke-width="0.22" textLength="3.7" lengthAdjust="spacingAndGlyphs">*</text>
<path d="M318.8,171.8 V166.8 H334.3 V171.8 M336.2,171.8 V166.8 H351.7 V171.8" fill="none" stroke="#231f20" stroke-width="1.2" />
<text x="323.7" y="169.3" font-size="10.2" fill="#231f20" font-weight="normal" stroke="#231f20" stroke-width="0.22" textLength="6.5" lengthAdjust="spacingAndGlyphs">**</text>
<text x="340.3" y="169.3" font-size="10.2" fill="#231f20" font-weight="normal" stroke="#231f20" stroke-width="0.22" textLength="6.5" lengthAdjust="spacingAndGlyphs">**</text>
<path d="M367.8,169.7 V165.4 H383.1 V169.7 M384.4,169.7 V165.4 H399.4 V169.7" fill="none" stroke="#231f20" stroke-width="1.2" />
<text x="372.0" y="167.3" font-size="10.2" fill="#231f20" font-weight="normal" stroke="#231f20" stroke-width="0.22" textLength="6.5" lengthAdjust="spacingAndGlyphs">**</text>
<text x="388.5" y="167.3" font-size="10.2" fill="#231f20" font-weight="normal" stroke="#231f20" stroke-width="0.22" textLength="6.5" lengthAdjust="spacingAndGlyphs">**</text>
<text x="277.0" y="250.6" font-size="9.63" fill="#231f20" font-weight="normal" stroke="#231f20" stroke-width="0.22" textLength="17.2" lengthAdjust="spacingAndGlyphs">0.03</text>
<text x="328.8" y="250.8" font-size="9.63" fill="#231f20" font-weight="normal" stroke="#231f20" stroke-width="0.22" textLength="12.4" lengthAdjust="spacingAndGlyphs">0.1</text>
<text x="378.0" y="250.8" font-size="9.63" fill="#231f20" font-weight="normal" stroke="#231f20" stroke-width="0.22" textLength="12.5" lengthAdjust="spacingAndGlyphs">0.3</text>
<text x="300.5" y="265.2" font-size="9.69" fill="#231f20" font-weight="normal" stroke="#231f20" stroke-width="0.22" textLength="69.0" lengthAdjust="spacingAndGlyphs">[thrombin] (U/mL)</text>
<circle cx="419.40" cy="190.80" r="3.2" fill="#d3d6e7" stroke="#294a88" stroke-width="1.3"/>
<text x="426.6" y="194.1" font-size="9.4" fill="#231f20" font-weight="normal" stroke="#231f20" stroke-width="0.22" textLength="11.3" lengthAdjust="spacingAndGlyphs">Sol</text>
<circle cx="419.40" cy="203.20" r="3.2" fill="#ebd3cc" stroke="#ba142f" stroke-width="1.3"/>
<text x="426.6" y="206.5" font-size="9.4" fill="#231f20" font-weight="normal" stroke="#231f20" stroke-width="0.22" textLength="18.0" lengthAdjust="spacingAndGlyphs">abS1</text>
<circle cx="419.40" cy="215.30" r="3.2" fill="#dcead0" stroke="#5aac3a" stroke-width="1.3"/>
<text x="426.6" y="218.6" font-size="9.4" fill="#231f20" font-weight="normal" stroke="#231f20" stroke-width="0.22" textLength="13.4" lengthAdjust="spacingAndGlyphs">IgG</text>
<text x="25.0" y="191.9" font-size="10.2" fill="#231f20" font-weight="normal" stroke="#231f20" stroke-width="0.22" textLength="12.0" lengthAdjust="spacingAndGlyphs">Sol</text>
<text x="61.9" y="191.9" font-size="10.2" fill="#231f20" font-weight="normal" stroke="#231f20" stroke-width="0.22" textLength="18.7" lengthAdjust="spacingAndGlyphs">abS1</text>
<defs><filter id="bl" filterUnits="userSpaceOnUse" x="0" y="190" width="100" height="70"><feGaussianBlur stdDeviation="0.9"/></filter><linearGradient id="bg" x1="0" y1="0" x2="1" y2="0"><stop offset="0" stop-color="#dcdcdc"/><stop offset="0.5" stop-color="#e2e2e2"/><stop offset="1" stop-color="#e0e0e0"/></linearGradient><linearGradient id="liq" x1="0" y1="0" x2="1" y2="0"><stop offset="0" stop-color="#d3b766"/><stop offset="0.45" stop-color="#dbc275"/><stop offset="0.8" stop-color="#e3d08e"/><stop offset="1" stop-color="#d2b66a"/></linearGradient><linearGradient id="glass" x1="0" y1="0" x2="1" y2="0"><stop offset="0" stop-color="#d6d6d6"/><stop offset="0.12" stop-color="#e4e4e4"/><stop offset="0.5" stop-color="#e2e2e2"/><stop offset="0.88" stop-color="#e6e6e6"/><stop offset="1" stop-color="#d4d4d4"/></linearGradient><linearGradient id="tbl" x1="0" y1="0" x2="0" y2="1"><stop offset="0" stop-color="#c6c6c4"/><stop offset="1" stop-color="#d0d0ce"/></linearGradient></defs>
<g filter="url(#bl)">
<rect x="8.70" y="197.90" width="80.90" height="32.90" fill="url(#bg)"/>
<rect x="8.70" y="230.80" width="80.90" height="23.80" fill="url(#tbl)"/>
<line x1="8.70" y1="230.90" x2="89.60" y2="230.90" stroke="#6e6e6e" stroke-width="1.1" />
<rect x="17.60" y="197.90" width="21.40" height="18.10" fill="url(#glass)"/>
<path d="M17.6,214.5 L39.0,214.5 L38.8,249.5 Q28.3,252 17.8,249.5 Z" fill="url(#liq)"/>
<line x1="18.00" y1="198.00" x2="18.00" y2="214.00" stroke="#c4c4c4" stroke-width="0.7" />
<line x1="38.60" y1="198.00" x2="38.60" y2="214.00" stroke="#c8c8c8" stroke-width="0.7" />
<path d="M18.1,249 Q28.3,252.8 38.5,249" stroke="#f2ece4" stroke-width="1.4" fill="none"/>
<rect x="60.00" y="197.90" width="21.80" height="18.10" fill="url(#glass)"/>
<path d="M60.0,214.5 L81.8,214.5 L81.6,249.5 Q70.9,252 60.2,249.5 Z" fill="url(#liq)"/>
<line x1="60.40" y1="198.00" x2="60.40" y2="214.00" stroke="#c4c4c4" stroke-width="0.7" />
<line x1="81.40" y1="198.00" x2="81.40" y2="214.00" stroke="#c8c8c8" stroke-width="0.7" />
<path d="M60.5,249 Q70.9,252.8 81.3,249" stroke="#f2ece4" stroke-width="1.4" fill="none"/>
<path d="M18,214.3 Q28.3,217.5 38.8,214.3 L38.8,216.2 Q28.3,219.5 18,216.2 Z" fill="#d06a40" opacity="0.8"/>
<path d="M18.2,216 Q28,219.5 38.6,216 L37,221.5 Q32,224.5 29.5,222 L29.5,219.5 L22,219.5 Q19.5,223 18.2,216 Z" fill="#c8382a" opacity="0.9"/>
<path d="M21.8,218.8 L29.4,218.8 L29.2,231.2 Q25.6,232.6 22,231.2 Z" fill="#a41c18"/>
<path d="M23.3,221.5 L28,221.5 L27.7,230.3 L23.6,230.3 Z" fill="#701010"/>
<path d="M17.9,244.8 L38.9,244.8 L38.8,248.6 Q28.3,250.2 18,248.6 Z" fill="#e23a26"/>
<path d="M60.2,215.6 Q71,223 81.6,215.6 L81.6,217.2 Q71,224.6 60.2,217.2 Z" fill="#de6a34" opacity="0.9"/>
<path d="M61.2,221.2 Q70,226.5 76.8,223.2 L80.1,245 L65.9,245 Z" fill="#dc3522"/>
<path d="M65.5,228 L75.5,227 L78,243.5 L68,243.5 Z" fill="#c9291c" opacity="0.7"/>
<path d="M60.3,244.6 L81.6,244.6 L81.5,248.4 Q71,250 60.4,248.4 Z" fill="#df3624"/>
</g>
<line x1="133.00" y1="185.50" x2="133.00" y2="255.20" stroke="#161616" stroke-width="1.3" />
<line x1="132.40" y1="254.60" x2="183.00" y2="254.60" stroke="#161616" stroke-width="1.3" />
<line x1="129.20" y1="254.60" x2="133.00" y2="254.60" stroke="#161616" stroke-width="1.2" />
<text x="121.6" y="257.9" font-size="9.63" fill="#231f20" font-weight="normal" stroke="#231f20" stroke-width="0.22" textLength="5.0" lengthAdjust="spacingAndGlyphs">0</text>
<line x1="129.20" y1="225.90" x2="133.00" y2="225.90" stroke="#161616" stroke-width="1.2" />
<text x="121.6" y="229.2" font-size="9.63" fill="#231f20" font-weight="normal" stroke="#231f20" stroke-width="0.22" textLength="5.0" lengthAdjust="spacingAndGlyphs">5</text>
<line x1="129.20" y1="197.20" x2="133.00" y2="197.20" stroke="#161616" stroke-width="1.2" />
<text x="117.1" y="200.5" font-size="9.63" fill="#231f20" font-weight="normal" stroke="#231f20" stroke-width="0.22" textLength="9.5" lengthAdjust="spacingAndGlyphs">10</text>
<text transform="translate(110.4,219.9) rotate(-90)" x="-35.5" y="0" font-size="10.45" fill="#231f20" stroke="#231f20" stroke-width="0.22" textLength="70.9" lengthAdjust="spacingAndGlyphs">Clot retraction (AU)</text>
<rect x="135.00" y="218.44" width="20.30" height="36.16" fill="#8a95be"/>
<rect x="160.20" y="247.42" width="19.90" height="7.18" fill="#d28b7c"/>
<circle cx="137.70" cy="205.50" r="3.1" fill="#d3d6e7" stroke="#294a88" stroke-width="1.3"/>
<circle cx="152.30" cy="199.80" r="3.1" fill="#d3d6e7" stroke="#294a88" stroke-width="1.3"/>
<circle cx="137.70" cy="218.60" r="3.1" fill="#d3d6e7" stroke="#294a88" stroke-width="1.3"/>
<circle cx="152.30" cy="218.60" r="3.1" fill="#d3d6e7" stroke="#294a88" stroke-width="1.3"/>
<circle cx="137.70" cy="228.70" r="3.1" fill="#d3d6e7" stroke="#294a88" stroke-width="1.3"/>
<circle cx="152.30" cy="226.00" r="3.1" fill="#d3d6e7" stroke="#294a88" stroke-width="1.3"/>
<circle cx="170.30" cy="236.00" r="3.1" fill="#ebd3cc" stroke="#ba142f" stroke-width="1.3"/>
<circle cx="166.70" cy="241.50" r="3.1" fill="#ebd3cc" stroke="#ba142f" stroke-width="1.3"/>
<circle cx="173.80" cy="241.50" r="3.1" fill="#ebd3cc" stroke="#ba142f" stroke-width="1.3"/>
<circle cx="162.50" cy="246.00" r="3.1" fill="#ebd3cc" stroke="#ba142f" stroke-width="1.3"/>
<circle cx="178.00" cy="246.00" r="3.1" fill="#ebd3cc" stroke="#ba142f" stroke-width="1.3"/>
<circle cx="170.30" cy="244.00" r="3.1" fill="#ebd3cc" stroke="#ba142f" stroke-width="1.3"/>
<line x1="145.50" y1="211.40" x2="145.50" y2="219.80" stroke="#111" stroke-width="1.2" />
<line x1="140.50" y1="211.40" x2="150.50" y2="211.40" stroke="#111" stroke-width="1.2" />
<line x1="140.50" y1="219.80" x2="150.50" y2="219.80" stroke="#111" stroke-width="1.2" />
<line x1="170.30" y1="241.20" x2="170.30" y2="244.60" stroke="#111" stroke-width="1.2" />
<line x1="165.80" y1="241.20" x2="174.80" y2="241.20" stroke="#111" stroke-width="1.2" />
<line x1="165.80" y1="244.60" x2="174.80" y2="244.60" stroke="#111" stroke-width="1.2" />
<path d="M145.5,190.8 V187 H170.2 V190.8" fill="none" stroke="#231f20" stroke-width="1.2" />
<text x="152.4" y="188.8" font-size="10.2" fill="#231f20" font-weight="normal" stroke="#231f20" stroke-width="0.22" textLength="10.2" lengthAdjust="spacingAndGlyphs">***</text>
<text x="138.7" y="265.9" font-size="9.69" fill="#231f20" font-weight="normal" stroke="#231f20" stroke-width="0.22" textLength="12.3" lengthAdjust="spacingAndGlyphs">Sol</text>
<text x="160.2" y="265.9" font-size="9.69" fill="#231f20" font-weight="normal" stroke="#231f20" stroke-width="0.22" textLength="19.2" lengthAdjust="spacingAndGlyphs">abS1</text>
<text transform="translate(17.8,350.8) rotate(-90)" x="-36.8" y="0" font-size="11.0" fill="#231f20" stroke="#231f20" stroke-width="0.22" textLength="73.5" lengthAdjust="spacingAndGlyphs">&#916; fluorescence (AU)</text>
<line x1="41.80" y1="316.40" x2="41.80" y2="388.90" stroke="#161616" stroke-width="1.3" />
<line x1="41.20" y1="388.30" x2="143.80" y2="388.30" stroke="#161616" stroke-width="1.3" />
<line x1="37.80" y1="319.60" x2="41.80" y2="319.60" stroke="#161616" stroke-width="1.2" />
<text x="22.5" y="322.9" font-size="9.63" fill="#231f20" font-weight="normal" stroke="#231f20" stroke-width="0.22" textLength="13.0" lengthAdjust="spacingAndGlyphs">1.0</text>
<line x1="37.80" y1="335.50" x2="41.80" y2="335.50" stroke="#161616" stroke-width="1.2" />
<text x="22.5" y="338.8" font-size="9.63" fill="#231f20" font-weight="normal" stroke="#231f20" stroke-width="0.22" textLength="13.0" lengthAdjust="spacingAndGlyphs">0.9</text>
<line x1="37.80" y1="351.40" x2="41.80" y2="351.40" stroke="#161616" stroke-width="1.2" />
<text x="22.5" y="354.7" font-size="9.63" fill="#231f20" font-weight="normal" stroke="#231f20" stroke-width="0.22" textLength="13.0" lengthAdjust="spacingAndGlyphs">0.8</text>
<line x1="37.80" y1="367.30" x2="41.80" y2="367.30" stroke="#161616" stroke-width="1.2" />
<text x="22.5" y="370.6" font-size="9.63" fill="#231f20" font-weight="normal" stroke="#231f20" stroke-width="0.22" textLength="13.0" lengthAdjust="spacingAndGlyphs">0.7</text>
<line x1="37.80" y1="383.20" x2="41.80" y2="383.20" stroke="#161616" stroke-width="1.2" />
<text x="22.5" y="386.5" font-size="9.63" fill="#231f20" font-weight="normal" stroke="#231f20" stroke-width="0.22" textLength="13.0" lengthAdjust="spacingAndGlyphs">0.6</text>
<line x1="49.50" y1="388.30" x2="49.50" y2="392.20" stroke="#161616" stroke-width="1.2" />
<text x="42.9" y="403.0" font-size="10.3" fill="#231f20" font-weight="normal" stroke="#231f20" stroke-width="0.22" textLength="12.6" lengthAdjust="spacingAndGlyphs">-10</text>
<line x1="67.70" y1="388.30" x2="67.70" y2="392.20" stroke="#161616" stroke-width="1.2" />
<text x="65.3" y="403.0" font-size="10.3" fill="#231f20" font-weight="normal" stroke="#231f20" stroke-width="0.22" textLength="4.8" lengthAdjust="spacingAndGlyphs">0</text>
<line x1="85.90" y1="388.30" x2="85.90" y2="392.20" stroke="#161616" stroke-width="1.2" />
<text x="81.1" y="403.0" font-size="10.3" fill="#231f20" font-weight="normal" stroke="#231f20" stroke-width="0.22" textLength="9.6" lengthAdjust="spacingAndGlyphs">10</text>
<line x1="104.10" y1="388.30" x2="104.10" y2="392.20" stroke="#161616" stroke-width="1.2" />
<text x="99.3" y="403.0" font-size="10.3" fill="#231f20" font-weight="normal" stroke="#231f20" stroke-width="0.22" textLength="9.6" lengthAdjust="spacingAndGlyphs">20</text>
<line x1="122.30" y1="388.30" x2="122.30" y2="392.20" stroke="#161616" stroke-width="1.2" />
<text x="117.5" y="403.0" font-size="10.3" fill="#231f20" font-weight="normal" stroke="#231f20" stroke-width="0.22" textLength="9.6" lengthAdjust="spacingAndGlyphs">30</text>
<line x1="140.50" y1="388.30" x2="140.50" y2="392.20" stroke="#161616" stroke-width="1.2" />
<text x="135.7" y="403.0" font-size="10.3" fill="#231f20" font-weight="normal" stroke="#231f20" stroke-width="0.22" textLength="9.6" lengthAdjust="spacingAndGlyphs">40</text>
<text x="75.9" y="308.3" font-size="11.53" fill="#231f20" font-weight="normal" stroke="#231f20" stroke-width="0.22" textLength="36.5" lengthAdjust="spacingAndGlyphs">SMOC1</text>
<text x="67.4" y="416.9" font-size="10.8" fill="#231f20" font-weight="normal" stroke="#231f20" stroke-width="0.22" textLength="55.6" lengthAdjust="spacingAndGlyphs">Time (seconds)</text>
<line x1="67.70" y1="318.40" x2="67.70" y2="388.00" stroke="#1a1a1a" stroke-width="1.15" stroke-dasharray="1.3,1.0"/>
<line x1="122.30" y1="318.40" x2="122.30" y2="388.00" stroke="#1a1a1a" stroke-width="1.15" stroke-dasharray="1.3,1.0"/>
<path d="M58.60,319.60 L67.70,319.60 L67.70,319.60 L67.79,322.08 L67.88,324.11 L67.97,325.82 L68.06,327.31 L68.16,328.62 L68.25,329.79 L68.34,330.85 L68.43,331.82 L68.52,332.71 L68.61,333.53 L68.70,334.30 L68.79,335.02 L68.88,335.69 L68.97,336.33 L69.06,336.93 L69.16,337.50 L69.25,338.05 L69.34,338.56 L69.43,339.06 L69.52,339.53 L69.98,341.64 L70.43,343.40 L70.89,344.93 L71.34,346.27 L71.80,347.47 L72.25,348.55 L72.70,349.54 L73.16,350.44 L74.07,352.06 L74.98,353.47 L75.89,354.72 L76.80,355.84 L77.71,356.86 L78.62,357.80 L79.53,358.66 L80.44,359.46 L81.35,360.21 L82.26,360.91 L83.17,361.57 L84.08,362.19 L84.99,362.78 L85.90,363.34 L86.81,363.87 L87.72,364.38 L88.63,364.86 L89.54,365.33 L90.45,365.77 L91.36,366.20 L92.27,366.62 L93.18,367.02 L94.09,367.40 L95.00,367.77 L95.91,368.13 L96.82,368.48 L97.73,368.82 L98.64,369.15 L99.55,369.47 L100.46,369.78 L101.37,370.08 L102.28,370.37 L103.19,370.66 L104.10,370.94 L105.01,371.21 L105.92,371.47 L106.83,371.73 L107.74,371.99 L108.65,372.23 L109.56,372.48 L110.47,372.71 L111.38,372.95 L112.29,373.17 L113.20,373.40 L114.11,373.61 L115.02,373.83 L115.93,374.04 L116.84,374.25 L117.75,374.45 L118.66,374.65 L119.57,374.84 L120.48,375.03 L121.39,375.22 L122.30,375.41 L122.75,365.18 L123.21,362.45 L123.66,360.11 L124.12,358.11 L124.58,356.40 L125.03,354.94 L125.49,353.69 L125.94,352.62 L126.85,350.92 L127.76,349.68 L128.67,348.77 L129.58,348.11 L130.49,347.62 L131.40,347.27" fill="none" stroke="#5b2a86" stroke-width="1.3" stroke-linejoin="round"/>
<path d="M58.60,319.60 L67.70,319.60 L67.70,319.60 L67.79,322.03 L67.88,324.02 L67.97,325.70 L68.06,327.16 L68.16,328.44 L68.25,329.59 L68.34,330.63 L68.43,331.58 L68.52,332.45 L68.61,333.26 L68.70,334.01 L68.79,334.71 L68.88,335.37 L68.97,336.00 L69.06,336.59 L69.16,337.15 L69.25,337.68 L69.34,338.18 L69.43,338.67 L69.52,339.13 L69.98,341.20 L70.43,342.93 L70.89,344.43 L71.34,345.74 L71.80,346.91 L72.25,347.97 L72.70,348.94 L73.16,349.83 L74.07,351.41 L74.98,352.79 L75.89,354.02 L76.80,355.12 L77.71,356.12 L78.62,357.04 L79.53,357.88 L80.44,358.67 L81.35,359.40 L82.26,360.08 L83.17,360.73 L84.08,361.34 L84.99,361.91 L85.90,362.46 L86.81,362.98 L87.72,363.48 L88.63,363.96 L89.54,364.41 L90.45,364.85 L91.36,365.27 L92.27,365.68 L93.18,366.07 L94.09,366.45 L95.00,366.81 L95.91,367.16 L96.82,367.51 L97.73,367.84 L98.64,368.16 L99.55,368.47 L100.46,368.78 L101.37,369.07 L102.28,369.36 L103.19,369.64 L104.10,369.91 L105.01,370.18 L105.92,370.44 L106.83,370.69 L107.74,370.94 L108.65,371.18 L109.56,371.42 L110.47,371.65 L111.38,371.88 L112.29,372.10 L113.20,372.32 L114.11,372.54 L115.02,372.75 L115.93,372.95 L116.84,373.16 L117.75,373.35 L118.66,373.55 L119.57,373.74 L120.48,373.93 L121.39,374.11 L122.30,374.30 L122.75,364.36 L123.21,361.70 L123.66,359.43 L124.12,357.49 L124.58,355.83 L125.03,354.41 L125.49,353.19 L125.94,352.15 L126.85,350.50 L127.76,349.30 L128.67,348.41 L129.58,347.77 L130.49,347.29 L131.40,346.95" fill="none" stroke="#b7bd8c" stroke-width="1.3" stroke-linejoin="round"/>
<path d="M58.60,319.60 L67.70,319.60 L67.70,319.60 L67.79,321.98 L67.88,323.92 L67.97,325.56 L68.06,326.98 L68.16,328.23 L68.25,329.36 L68.34,330.37 L68.43,331.30 L68.52,332.15 L68.61,332.94 L68.70,333.67 L68.79,334.36 L68.88,335.01 L68.97,335.62 L69.06,336.19 L69.16,336.74 L69.25,337.26 L69.34,337.75 L69.43,338.23 L69.52,338.68 L69.98,340.69 L70.43,342.39 L70.89,343.85 L71.34,345.13 L71.80,346.28 L72.25,347.31 L72.70,348.26 L73.16,349.12 L74.07,350.67 L74.98,352.02 L75.89,353.22 L76.80,354.29 L77.71,355.27 L78.62,356.17 L79.53,356.99 L80.44,357.76 L81.35,358.47 L82.26,359.14 L83.17,359.77 L84.08,360.37 L84.99,360.93 L85.90,361.47 L86.81,361.98 L87.72,362.46 L88.63,362.93 L89.54,363.37 L90.45,363.80 L91.36,364.21 L92.27,364.61 L93.18,364.99 L94.09,365.36 L95.00,365.71 L95.91,366.06 L96.82,366.39 L97.73,366.72 L98.64,367.03 L99.55,367.34 L100.46,367.63 L101.37,367.92 L102.28,368.20 L103.19,368.47 L104.10,368.74 L105.01,369.00 L105.92,369.26 L106.83,369.50 L107.74,369.75 L108.65,369.98 L109.56,370.22 L110.47,370.44 L111.38,370.67 L112.29,370.88 L113.20,371.10 L114.11,371.31 L115.02,371.51 L115.93,371.71 L116.84,371.91 L117.75,372.10 L118.66,372.29 L119.57,372.48 L120.48,372.67 L121.39,372.85 L122.30,373.02 L122.75,363.43 L123.21,360.87 L123.66,358.68 L124.12,356.80 L124.58,355.20 L125.03,353.83 L125.49,352.66 L125.94,351.65 L126.85,350.06 L127.76,348.90 L128.67,348.04 L129.58,347.42 L130.49,346.96 L131.40,346.63" fill="none" stroke="#d8198d" stroke-width="1.3" stroke-linejoin="round"/>
<path d="M58.60,319.60 L67.70,319.60 L67.70,319.60 L67.79,321.88 L67.88,323.74 L67.97,325.31 L68.06,326.67 L68.16,327.88 L68.25,328.95 L68.34,329.92 L68.43,330.81 L68.52,331.63 L68.61,332.38 L68.70,333.09 L68.79,333.75 L68.88,334.36 L68.97,334.95 L69.06,335.50 L69.16,336.02 L69.25,336.52 L69.34,337.00 L69.43,337.45 L69.52,337.88 L69.98,339.81 L70.43,341.44 L70.89,342.84 L71.34,344.07 L71.80,345.17 L72.25,346.16 L72.70,347.06 L73.16,347.89 L74.07,349.37 L74.98,350.67 L75.89,351.82 L76.80,352.85 L77.71,353.78 L78.62,354.64 L79.53,355.43 L80.44,356.17 L81.35,356.85 L82.26,357.49 L83.17,358.10 L84.08,358.67 L84.99,359.21 L85.90,359.72 L86.81,360.21 L87.72,360.68 L88.63,361.12 L89.54,361.55 L90.45,361.96 L91.36,362.35 L92.27,362.73 L93.18,363.10 L94.09,363.45 L95.00,363.79 L95.91,364.12 L96.82,364.44 L97.73,364.75 L98.64,365.05 L99.55,365.35 L100.46,365.63 L101.37,365.91 L102.28,366.18 L103.19,366.44 L104.10,366.69 L105.01,366.94 L105.92,367.19 L106.83,367.43 L107.74,367.66 L108.65,367.88 L109.56,368.11 L110.47,368.32 L111.38,368.54 L112.29,368.75 L113.20,368.95 L114.11,369.15 L115.02,369.35 L115.93,369.54 L116.84,369.73 L117.75,369.92 L118.66,370.10 L119.57,370.28 L120.48,370.45 L121.39,370.63 L122.30,370.80 L122.75,361.78 L123.21,359.37 L123.66,357.32 L124.12,355.55 L124.58,354.05 L125.03,352.76 L125.49,351.66 L125.94,350.71 L126.85,349.22 L127.76,348.12 L128.67,347.32 L129.58,346.74 L130.49,346.31 L131.40,345.99" fill="none" stroke="#2c5398" stroke-width="1.3" stroke-linejoin="round"/>
<path d="M58.60,319.60 L67.70,319.60 L67.70,319.60 L67.79,321.79 L67.88,323.58 L67.97,325.10 L68.06,326.41 L68.16,327.57 L68.25,328.60 L68.34,329.54 L68.43,330.39 L68.52,331.18 L68.61,331.91 L68.70,332.58 L68.79,333.22 L68.88,333.81 L68.97,334.38 L69.06,334.91 L69.16,335.41 L69.25,335.89 L69.34,336.35 L69.43,336.78 L69.52,337.20 L69.98,339.06 L70.43,340.62 L70.89,341.97 L71.34,343.16 L71.80,344.21 L72.25,345.17 L72.70,346.04 L73.16,346.84 L74.07,348.26 L74.98,349.51 L75.89,350.61 L76.80,351.61 L77.71,352.51 L78.62,353.34 L79.53,354.10 L80.44,354.80 L81.35,355.46 L82.26,356.08 L83.17,356.66 L84.08,357.21 L84.99,357.73 L85.90,358.23 L86.81,358.70 L87.72,359.15 L88.63,359.57 L89.54,359.99 L90.45,360.38 L91.36,360.76 L92.27,361.12 L93.18,361.48 L94.09,361.82 L95.00,362.15 L95.91,362.46 L96.82,362.77 L97.73,363.07 L98.64,363.36 L99.55,363.64 L100.46,363.91 L101.37,364.18 L102.28,364.44 L103.19,364.69 L104.10,364.94 L105.01,365.18 L105.92,365.41 L106.83,365.64 L107.74,365.87 L108.65,366.09 L109.56,366.30 L110.47,366.51 L111.38,366.71 L112.29,366.91 L113.20,367.11 L114.11,367.30 L115.02,367.49 L115.93,367.68 L116.84,367.86 L117.75,368.04 L118.66,368.22 L119.57,368.39 L120.48,368.56 L121.39,368.73 L122.30,368.89 L122.75,359.93 L123.21,357.54 L123.66,355.49 L124.12,353.74 L124.58,352.25 L125.03,350.97 L125.49,349.87 L125.94,348.93 L126.85,347.45 L127.76,346.36 L128.67,345.56 L129.58,344.98 L130.49,344.56 L131.40,344.25" fill="none" stroke="#58ae48" stroke-width="1.3" stroke-linejoin="round"/>
<path d="M58.60,319.60 L67.70,319.60 L67.70,319.60 L67.79,321.64 L67.88,323.31 L67.97,324.73 L68.06,325.95 L68.16,327.03 L68.25,327.99 L68.34,328.86 L68.43,329.66 L68.52,330.39 L68.61,331.07 L68.70,331.71 L68.79,332.30 L68.88,332.85 L68.97,333.38 L69.06,333.87 L69.16,334.34 L69.25,334.79 L69.34,335.21 L69.43,335.62 L69.52,336.01 L69.98,337.74 L70.43,339.20 L70.89,340.46 L71.34,341.56 L71.80,342.55 L72.25,343.44 L72.70,344.25 L73.16,344.99 L74.07,346.32 L74.98,347.48 L75.89,348.51 L76.80,349.44 L77.71,350.28 L78.62,351.05 L79.53,351.76 L80.44,352.42 L81.35,353.03 L82.26,353.61 L83.17,354.15 L84.08,354.66 L84.99,355.15 L85.90,355.61 L86.81,356.05 L87.72,356.47 L88.63,356.87 L89.54,357.25 L90.45,357.62 L91.36,357.97 L92.27,358.31 L93.18,358.64 L94.09,358.96 L95.00,359.26 L95.91,359.56 L96.82,359.85 L97.73,360.13 L98.64,360.40 L99.55,360.66 L100.46,360.91 L101.37,361.16 L102.28,361.40 L103.19,361.64 L104.10,361.87 L105.01,362.09 L105.92,362.31 L106.83,362.52 L107.74,362.73 L108.65,362.94 L109.56,363.14 L110.47,363.33 L111.38,363.52 L112.29,363.71 L113.20,363.89 L114.11,364.07 L115.02,364.25 L115.93,364.42 L116.84,364.59 L117.75,364.76 L118.66,364.92 L119.57,365.08 L120.48,365.24 L121.39,365.40 L122.30,365.55 L122.75,357.23 L123.21,355.01 L123.66,353.11 L124.12,351.48 L124.58,350.09 L125.03,348.90 L125.49,347.88 L125.94,347.01 L126.85,345.63 L127.76,344.62 L128.67,343.88 L129.58,343.34 L130.49,342.94 L131.40,342.66" fill="none" stroke="#eb9326" stroke-width="1.3" stroke-linejoin="round"/>
<path d="M58.60,319.60 L67.70,319.60 L67.70,319.60 L67.79,321.74 L67.88,323.40 L67.97,324.75 L68.06,325.90 L68.16,326.89 L68.25,327.77 L68.34,328.55 L68.43,329.26 L68.52,329.91 L68.61,330.50 L68.70,331.05 L68.79,331.57 L68.88,332.05 L68.97,332.50 L69.06,332.92 L69.16,333.32 L69.25,333.71 L69.34,334.07 L69.43,334.41 L69.52,334.74 L69.98,336.21 L70.43,337.43 L70.89,338.48 L71.34,339.40 L71.80,340.22 L72.25,340.95 L72.70,341.62 L73.16,342.24 L74.07,343.33 L74.98,344.29 L75.89,345.13 L76.80,345.89 L77.71,346.58 L78.62,347.21 L79.53,347.79 L80.44,348.33 L81.35,348.83 L82.26,349.31 L83.17,349.75 L84.08,350.17 L84.99,350.56 L85.90,350.94 L86.81,351.29 L87.72,351.64 L88.63,351.96 L89.54,352.27 L90.45,352.57 L91.36,352.86 L92.27,353.14 L93.18,353.41 L94.09,353.67 L95.00,353.92 L95.91,354.16 L96.82,354.39 L97.73,354.62 L98.64,354.84 L99.55,355.05 L100.46,355.26 L101.37,355.46 L102.28,355.66 L103.19,355.85 L104.10,356.04 L105.01,356.22 L105.92,356.40 L106.83,356.57 L107.74,356.74 L108.65,356.91 L109.56,357.07 L110.47,357.23 L111.38,357.38 L112.29,357.53 L113.20,357.68 L114.11,357.83 L115.02,357.97 L115.93,358.11 L116.84,358.25 L117.75,358.39 L118.66,358.52 L119.57,358.65 L120.48,358.78 L121.39,358.91 L122.30,359.03 L122.75,351.87 L123.21,349.95 L123.66,348.32 L124.12,346.92 L124.58,345.72 L125.03,344.69 L125.49,343.82 L125.94,343.07 L126.85,341.88 L127.76,341.01 L128.67,340.37 L129.58,339.91 L130.49,339.57 L131.40,339.32" fill="none" stroke="#c3143c" stroke-width="1.3" stroke-linejoin="round"/>
<line x1="181.50" y1="316.40" x2="181.50" y2="388.90" stroke="#161616" stroke-width="1.3" />
<line x1="180.90" y1="388.30" x2="283.50" y2="388.30" stroke="#161616" stroke-width="1.3" />
<line x1="177.50" y1="319.90" x2="181.50" y2="319.90" stroke="#161616" stroke-width="1.2" />
<text x="162.2" y="323.2" font-size="9.63" fill="#231f20" font-weight="normal" stroke="#231f20" stroke-width="0.22" textLength="13.0" lengthAdjust="spacingAndGlyphs">1.0</text>
<line x1="177.50" y1="332.46" x2="181.50" y2="332.46" stroke="#161616" stroke-width="1.2" />
<text x="162.2" y="335.8" font-size="9.63" fill="#231f20" font-weight="normal" stroke="#231f20" stroke-width="0.22" textLength="13.0" lengthAdjust="spacingAndGlyphs">0.9</text>
<line x1="177.50" y1="345.02" x2="181.50" y2="345.02" stroke="#161616" stroke-width="1.2" />
<text x="162.2" y="348.3" font-size="9.63" fill="#231f20" font-weight="normal" stroke="#231f20" stroke-width="0.22" textLength="13.0" lengthAdjust="spacingAndGlyphs">0.8</text>
<line x1="177.50" y1="357.58" x2="181.50" y2="357.58" stroke="#161616" stroke-width="1.2" />
<text x="162.2" y="360.9" font-size="9.63" fill="#231f20" font-weight="normal" stroke="#231f20" stroke-width="0.22" textLength="13.0" lengthAdjust="spacingAndGlyphs">0.7</text>
<line x1="177.50" y1="370.14" x2="181.50" y2="370.14" stroke="#161616" stroke-width="1.2" />
<text x="162.2" y="373.4" font-size="9.63" fill="#231f20" font-weight="normal" stroke="#231f20" stroke-width="0.22" textLength="13.0" lengthAdjust="spacingAndGlyphs">0.6</text>
<line x1="177.50" y1="382.70" x2="181.50" y2="382.70" stroke="#161616" stroke-width="1.2" />
<text x="162.2" y="386.0" font-size="9.63" fill="#231f20" font-weight="normal" stroke="#231f20" stroke-width="0.22" textLength="13.0" lengthAdjust="spacingAndGlyphs">0.5</text>
<line x1="189.80" y1="388.30" x2="189.80" y2="392.20" stroke="#161616" stroke-width="1.2" />
<text x="183.2" y="403.0" font-size="10.3" fill="#231f20" font-weight="normal" stroke="#231f20" stroke-width="0.22" textLength="12.6" lengthAdjust="spacingAndGlyphs">-10</text>
<line x1="208.00" y1="388.30" x2="208.00" y2="392.20" stroke="#161616" stroke-width="1.2" />
<text x="205.6" y="403.0" font-size="10.3" fill="#231f20" font-weight="normal" stroke="#231f20" stroke-width="0.22" textLength="4.8" lengthAdjust="spacingAndGlyphs">0</text>
<line x1="226.20" y1="388.30" x2="226.20" y2="392.20" stroke="#161616" stroke-width="1.2" />
<text x="221.4" y="403.0" font-size="10.3" fill="#231f20" font-weight="normal" stroke="#231f20" stroke-width="0.22" textLength="9.6" lengthAdjust="spacingAndGlyphs">10</text>
<line x1="244.40" y1="388.30" x2="244.40" y2="392.20" stroke="#161616" stroke-width="1.2" />
<text x="239.6" y="403.0" font-size="10.3" fill="#231f20" font-weight="normal" stroke="#231f20" stroke-width="0.22" textLength="9.6" lengthAdjust="spacingAndGlyphs">20</text>
<line x1="262.60" y1="388.30" x2="262.60" y2="392.20" stroke="#161616" stroke-width="1.2" />
<text x="257.8" y="403.0" font-size="10.3" fill="#231f20" font-weight="normal" stroke="#231f20" stroke-width="0.22" textLength="9.6" lengthAdjust="spacingAndGlyphs">30</text>
<line x1="280.80" y1="388.30" x2="280.80" y2="392.20" stroke="#161616" stroke-width="1.2" />
<text x="276.0" y="403.0" font-size="10.3" fill="#231f20" font-weight="normal" stroke="#231f20" stroke-width="0.22" textLength="9.6" lengthAdjust="spacingAndGlyphs">40</text>
<text x="199.5" y="308.3" font-size="11.53" fill="#231f20" font-weight="normal" stroke="#231f20" stroke-width="0.22" textLength="71.4" lengthAdjust="spacingAndGlyphs">Denat. SMOC1</text>
<text x="207.7" y="416.9" font-size="10.8" fill="#231f20" font-weight="normal" stroke="#231f20" stroke-width="0.22" textLength="55.6" lengthAdjust="spacingAndGlyphs">Time (seconds)</text>
<line x1="208.00" y1="318.40" x2="208.00" y2="388.00" stroke="#1a1a1a" stroke-width="1.15" stroke-dasharray="1.3,1.0"/>
<line x1="262.60" y1="318.40" x2="262.60" y2="388.00" stroke="#1a1a1a" stroke-width="1.15" stroke-dasharray="1.3,1.0"/>
<path d="M198.90,319.90 L208.00,319.90 L208.00,319.90 L208.09,323.93 L208.18,326.80 L208.27,329.01 L208.36,330.83 L208.46,332.36 L208.55,333.69 L208.64,334.86 L208.73,335.91 L208.82,336.86 L208.91,337.72 L209.00,338.52 L209.09,339.26 L209.18,339.94 L209.27,340.59 L209.37,341.19 L209.46,341.76 L209.55,342.29 L209.64,342.80 L209.73,343.29 L209.82,343.75 L210.28,345.79 L210.73,347.48 L211.19,348.92 L211.64,350.19 L212.09,351.30 L212.55,352.31 L213.00,353.22 L213.46,354.06 L214.37,355.55 L215.28,356.84 L216.19,357.99 L217.10,359.01 L218.01,359.94 L218.92,360.79 L219.83,361.58 L220.74,362.30 L221.65,362.98 L222.56,363.61 L223.47,364.21 L224.38,364.77 L225.29,365.30 L226.20,365.81 L227.11,366.29 L228.02,366.75 L228.93,367.19 L229.84,367.61 L230.75,368.01 L231.66,368.40 L232.57,368.77 L233.48,369.13 L234.39,369.47 L235.30,369.81 L236.21,370.13 L237.12,370.45 L238.03,370.75 L238.94,371.05 L239.85,371.33 L240.76,371.61 L241.67,371.88 L242.58,372.15 L243.49,372.40 L244.40,372.65 L245.31,372.90 L246.22,373.14 L247.13,373.37 L248.04,373.60 L248.95,373.82 L249.86,374.04 L250.77,374.25 L251.68,374.46 L252.59,374.66 L253.50,374.86 L254.41,375.06 L255.32,375.25 L256.23,375.44 L257.14,375.63 L258.05,375.81 L258.96,375.99 L259.87,376.16 L260.78,376.34 L261.69,376.50 L262.60,376.67 L263.06,369.27 L263.51,366.70 L263.96,364.37 L264.42,362.26 L264.88,360.36 L265.33,358.63 L265.79,357.07 L266.24,355.66 L267.15,353.22 L268.06,351.23 L268.97,349.60 L269.88,348.26 L270.79,347.17 L271.70,346.28" fill="none" stroke="#eb9326" stroke-width="1.3" stroke-linejoin="round"/>
<path d="M198.90,319.90 L208.00,319.90 L208.00,319.90 L208.09,323.92 L208.18,326.76 L208.27,328.97 L208.36,330.78 L208.46,332.31 L208.55,333.63 L208.64,334.80 L208.73,335.84 L208.82,336.78 L208.91,337.64 L209.00,338.44 L209.09,339.17 L209.18,339.85 L209.27,340.49 L209.37,341.09 L209.46,341.66 L209.55,342.20 L209.64,342.70 L209.73,343.19 L209.82,343.65 L210.28,345.68 L210.73,347.36 L211.19,348.80 L211.64,350.05 L212.09,351.17 L212.55,352.17 L213.00,353.08 L213.46,353.91 L214.37,355.39 L215.28,356.68 L216.19,357.82 L217.10,358.84 L218.01,359.76 L218.92,360.61 L219.83,361.39 L220.74,362.12 L221.65,362.79 L222.56,363.42 L223.47,364.01 L224.38,364.57 L225.29,365.10 L226.20,365.61 L227.11,366.08 L228.02,366.54 L228.93,366.98 L229.84,367.39 L230.75,367.80 L231.66,368.18 L232.57,368.55 L233.48,368.91 L234.39,369.25 L235.30,369.59 L236.21,369.91 L237.12,370.22 L238.03,370.53 L238.94,370.82 L239.85,371.11 L240.76,371.38 L241.67,371.65 L242.58,371.92 L243.49,372.17 L244.40,372.42 L245.31,372.66 L246.22,372.90 L247.13,373.13 L248.04,373.36 L248.95,373.58 L249.86,373.80 L250.77,374.01 L251.68,374.22 L252.59,374.42 L253.50,374.62 L254.41,374.82 L255.32,375.01 L256.23,375.20 L257.14,375.38 L258.05,375.56 L258.96,375.74 L259.87,375.91 L260.78,376.09 L261.69,376.25 L262.60,376.42 L263.06,369.02 L263.51,366.44 L263.96,364.12 L264.42,362.01 L264.88,360.10 L265.33,358.38 L265.79,356.82 L266.24,355.41 L267.15,352.97 L268.06,350.98 L268.97,349.35 L269.88,348.01 L270.79,346.92 L271.70,346.02" fill="none" stroke="#c3143c" stroke-width="1.3" stroke-linejoin="round"/>
<text x="300.2" y="299.6" font-size="9.63" fill="#231f20" font-weight="normal" stroke="#231f20" stroke-width="0.22" textLength="33.6" lengthAdjust="spacingAndGlyphs">(µmol/L)</text>
<line x1="296.30" y1="319.20" x2="317.30" y2="319.20" stroke="#c3143c" stroke-width="1.3" />
<text x="320.6" y="321.8" font-size="9.69" fill="#231f20" font-weight="normal" stroke="#231f20" stroke-width="0.22" textLength="10.0" lengthAdjust="spacingAndGlyphs">20</text>
<line x1="296.30" y1="332.10" x2="317.30" y2="332.10" stroke="#eb9326" stroke-width="1.3" />
<text x="320.6" y="334.7" font-size="9.69" fill="#231f20" font-weight="normal" stroke="#231f20" stroke-width="0.22" textLength="12.8" lengthAdjust="spacingAndGlyphs">2.5</text>
<line x1="296.30" y1="345.00" x2="317.30" y2="345.00" stroke="#58ae48" stroke-width="1.3" />
<text x="320.6" y="347.6" font-size="9.69" fill="#231f20" font-weight="normal" stroke="#231f20" stroke-width="0.22" textLength="17.8" lengthAdjust="spacingAndGlyphs">1.25</text>
<line x1="296.30" y1="357.90" x2="317.30" y2="357.90" stroke="#2c5398" stroke-width="1.3" />
<text x="320.6" y="360.5" font-size="9.69" fill="#231f20" font-weight="normal" stroke="#231f20" stroke-width="0.22" textLength="12.8" lengthAdjust="spacingAndGlyphs">0.6</text>
<line x1="296.30" y1="371.10" x2="317.30" y2="371.10" stroke="#d8198d" stroke-width="1.3" />
<text x="320.6" y="373.7" font-size="9.69" fill="#231f20" font-weight="normal" stroke="#231f20" stroke-width="0.22" textLength="12.8" lengthAdjust="spacingAndGlyphs">0.3</text>
<line x1="296.30" y1="384.30" x2="317.30" y2="384.30" stroke="#b7bd8c" stroke-width="1.3" />
<text x="320.6" y="386.9" font-size="9.69" fill="#231f20" font-weight="normal" stroke="#231f20" stroke-width="0.22" textLength="12.8" lengthAdjust="spacingAndGlyphs">0.1</text>
<line x1="296.30" y1="397.20" x2="317.30" y2="397.20" stroke="#5b2a86" stroke-width="1.3" />
<text x="320.6" y="399.8" font-size="9.69" fill="#231f20" font-weight="normal" stroke="#231f20" stroke-width="0.22" textLength="11.5" lengthAdjust="spacingAndGlyphs">Sol</text>
<rect x="0.6" y="0.6" width="518.8" height="426.8" fill="none" stroke="#000" stroke-width="1.3"/>
</svg></body></html>
